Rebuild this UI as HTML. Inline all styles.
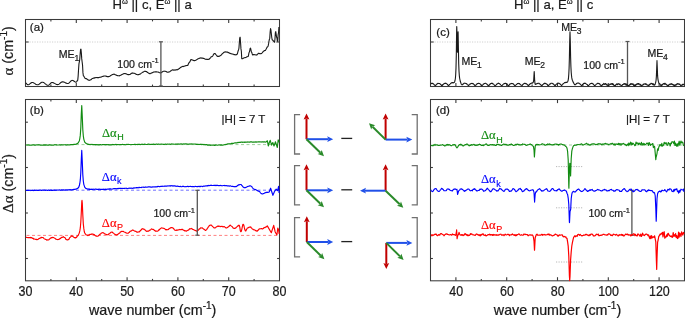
<!DOCTYPE html>
<html><head><meta charset="utf-8"><style>
html,body{margin:0;padding:0;background:#fff;width:685px;height:318px;overflow:hidden;font-family:"Liberation Sans",sans-serif;}
svg{display:block;will-change:transform;}
</style></head><body>
<svg width="685" height="318" viewBox="0 0 685 318"><rect x="25.50" y="19.50" width="254.00" height="67.00" fill="none" stroke="#3a3a3a" stroke-width="1.05"/>
<rect x="25.50" y="99.50" width="254.00" height="181.30" fill="none" stroke="#3a3a3a" stroke-width="1.05"/>
<rect x="430.50" y="19.50" width="254.00" height="67.00" fill="none" stroke="#3a3a3a" stroke-width="1.05"/>
<rect x="430.50" y="99.50" width="254.00" height="181.30" fill="none" stroke="#3a3a3a" stroke-width="1.05"/>
<line x1="76.30" y1="19.50" x2="76.30" y2="23.10" stroke="#3a3a3a" stroke-width="1.10" />
<line x1="76.30" y1="86.50" x2="76.30" y2="82.90" stroke="#3a3a3a" stroke-width="1.10" />
<line x1="127.10" y1="19.50" x2="127.10" y2="23.10" stroke="#3a3a3a" stroke-width="1.10" />
<line x1="127.10" y1="86.50" x2="127.10" y2="82.90" stroke="#3a3a3a" stroke-width="1.10" />
<line x1="177.90" y1="19.50" x2="177.90" y2="23.10" stroke="#3a3a3a" stroke-width="1.10" />
<line x1="177.90" y1="86.50" x2="177.90" y2="82.90" stroke="#3a3a3a" stroke-width="1.10" />
<line x1="228.70" y1="19.50" x2="228.70" y2="23.10" stroke="#3a3a3a" stroke-width="1.10" />
<line x1="228.70" y1="86.50" x2="228.70" y2="82.90" stroke="#3a3a3a" stroke-width="1.10" />
<line x1="50.90" y1="19.50" x2="50.90" y2="21.40" stroke="#3a3a3a" stroke-width="1.10" />
<line x1="50.90" y1="86.50" x2="50.90" y2="84.60" stroke="#3a3a3a" stroke-width="1.10" />
<line x1="101.70" y1="19.50" x2="101.70" y2="21.40" stroke="#3a3a3a" stroke-width="1.10" />
<line x1="101.70" y1="86.50" x2="101.70" y2="84.60" stroke="#3a3a3a" stroke-width="1.10" />
<line x1="152.50" y1="19.50" x2="152.50" y2="21.40" stroke="#3a3a3a" stroke-width="1.10" />
<line x1="152.50" y1="86.50" x2="152.50" y2="84.60" stroke="#3a3a3a" stroke-width="1.10" />
<line x1="203.30" y1="19.50" x2="203.30" y2="21.40" stroke="#3a3a3a" stroke-width="1.10" />
<line x1="203.30" y1="86.50" x2="203.30" y2="84.60" stroke="#3a3a3a" stroke-width="1.10" />
<line x1="254.10" y1="19.50" x2="254.10" y2="21.40" stroke="#3a3a3a" stroke-width="1.10" />
<line x1="254.10" y1="86.50" x2="254.10" y2="84.60" stroke="#3a3a3a" stroke-width="1.10" />
<line x1="455.90" y1="19.50" x2="455.90" y2="23.10" stroke="#3a3a3a" stroke-width="1.10" />
<line x1="455.90" y1="86.50" x2="455.90" y2="82.90" stroke="#3a3a3a" stroke-width="1.10" />
<line x1="506.70" y1="19.50" x2="506.70" y2="23.10" stroke="#3a3a3a" stroke-width="1.10" />
<line x1="506.70" y1="86.50" x2="506.70" y2="82.90" stroke="#3a3a3a" stroke-width="1.10" />
<line x1="557.50" y1="19.50" x2="557.50" y2="23.10" stroke="#3a3a3a" stroke-width="1.10" />
<line x1="557.50" y1="86.50" x2="557.50" y2="82.90" stroke="#3a3a3a" stroke-width="1.10" />
<line x1="608.30" y1="19.50" x2="608.30" y2="23.10" stroke="#3a3a3a" stroke-width="1.10" />
<line x1="608.30" y1="86.50" x2="608.30" y2="82.90" stroke="#3a3a3a" stroke-width="1.10" />
<line x1="659.10" y1="19.50" x2="659.10" y2="23.10" stroke="#3a3a3a" stroke-width="1.10" />
<line x1="659.10" y1="86.50" x2="659.10" y2="82.90" stroke="#3a3a3a" stroke-width="1.10" />
<line x1="481.30" y1="19.50" x2="481.30" y2="21.40" stroke="#3a3a3a" stroke-width="1.10" />
<line x1="481.30" y1="86.50" x2="481.30" y2="84.60" stroke="#3a3a3a" stroke-width="1.10" />
<line x1="532.10" y1="19.50" x2="532.10" y2="21.40" stroke="#3a3a3a" stroke-width="1.10" />
<line x1="532.10" y1="86.50" x2="532.10" y2="84.60" stroke="#3a3a3a" stroke-width="1.10" />
<line x1="582.90" y1="19.50" x2="582.90" y2="21.40" stroke="#3a3a3a" stroke-width="1.10" />
<line x1="582.90" y1="86.50" x2="582.90" y2="84.60" stroke="#3a3a3a" stroke-width="1.10" />
<line x1="633.70" y1="19.50" x2="633.70" y2="21.40" stroke="#3a3a3a" stroke-width="1.10" />
<line x1="633.70" y1="86.50" x2="633.70" y2="84.60" stroke="#3a3a3a" stroke-width="1.10" />
<line x1="76.30" y1="99.50" x2="76.30" y2="103.10" stroke="#3a3a3a" stroke-width="1.10" />
<line x1="76.30" y1="280.80" x2="76.30" y2="277.20" stroke="#3a3a3a" stroke-width="1.10" />
<line x1="127.10" y1="99.50" x2="127.10" y2="103.10" stroke="#3a3a3a" stroke-width="1.10" />
<line x1="127.10" y1="280.80" x2="127.10" y2="277.20" stroke="#3a3a3a" stroke-width="1.10" />
<line x1="177.90" y1="99.50" x2="177.90" y2="103.10" stroke="#3a3a3a" stroke-width="1.10" />
<line x1="177.90" y1="280.80" x2="177.90" y2="277.20" stroke="#3a3a3a" stroke-width="1.10" />
<line x1="228.70" y1="99.50" x2="228.70" y2="103.10" stroke="#3a3a3a" stroke-width="1.10" />
<line x1="228.70" y1="280.80" x2="228.70" y2="277.20" stroke="#3a3a3a" stroke-width="1.10" />
<line x1="50.90" y1="99.50" x2="50.90" y2="101.40" stroke="#3a3a3a" stroke-width="1.10" />
<line x1="50.90" y1="280.80" x2="50.90" y2="278.90" stroke="#3a3a3a" stroke-width="1.10" />
<line x1="101.70" y1="99.50" x2="101.70" y2="101.40" stroke="#3a3a3a" stroke-width="1.10" />
<line x1="101.70" y1="280.80" x2="101.70" y2="278.90" stroke="#3a3a3a" stroke-width="1.10" />
<line x1="152.50" y1="99.50" x2="152.50" y2="101.40" stroke="#3a3a3a" stroke-width="1.10" />
<line x1="152.50" y1="280.80" x2="152.50" y2="278.90" stroke="#3a3a3a" stroke-width="1.10" />
<line x1="203.30" y1="99.50" x2="203.30" y2="101.40" stroke="#3a3a3a" stroke-width="1.10" />
<line x1="203.30" y1="280.80" x2="203.30" y2="278.90" stroke="#3a3a3a" stroke-width="1.10" />
<line x1="254.10" y1="99.50" x2="254.10" y2="101.40" stroke="#3a3a3a" stroke-width="1.10" />
<line x1="254.10" y1="280.80" x2="254.10" y2="278.90" stroke="#3a3a3a" stroke-width="1.10" />
<line x1="455.90" y1="99.50" x2="455.90" y2="103.10" stroke="#3a3a3a" stroke-width="1.10" />
<line x1="455.90" y1="280.80" x2="455.90" y2="277.20" stroke="#3a3a3a" stroke-width="1.10" />
<line x1="506.70" y1="99.50" x2="506.70" y2="103.10" stroke="#3a3a3a" stroke-width="1.10" />
<line x1="506.70" y1="280.80" x2="506.70" y2="277.20" stroke="#3a3a3a" stroke-width="1.10" />
<line x1="557.50" y1="99.50" x2="557.50" y2="103.10" stroke="#3a3a3a" stroke-width="1.10" />
<line x1="557.50" y1="280.80" x2="557.50" y2="277.20" stroke="#3a3a3a" stroke-width="1.10" />
<line x1="608.30" y1="99.50" x2="608.30" y2="103.10" stroke="#3a3a3a" stroke-width="1.10" />
<line x1="608.30" y1="280.80" x2="608.30" y2="277.20" stroke="#3a3a3a" stroke-width="1.10" />
<line x1="659.10" y1="99.50" x2="659.10" y2="103.10" stroke="#3a3a3a" stroke-width="1.10" />
<line x1="659.10" y1="280.80" x2="659.10" y2="277.20" stroke="#3a3a3a" stroke-width="1.10" />
<line x1="481.30" y1="99.50" x2="481.30" y2="101.40" stroke="#3a3a3a" stroke-width="1.10" />
<line x1="481.30" y1="280.80" x2="481.30" y2="278.90" stroke="#3a3a3a" stroke-width="1.10" />
<line x1="532.10" y1="99.50" x2="532.10" y2="101.40" stroke="#3a3a3a" stroke-width="1.10" />
<line x1="532.10" y1="280.80" x2="532.10" y2="278.90" stroke="#3a3a3a" stroke-width="1.10" />
<line x1="582.90" y1="99.50" x2="582.90" y2="101.40" stroke="#3a3a3a" stroke-width="1.10" />
<line x1="582.90" y1="280.80" x2="582.90" y2="278.90" stroke="#3a3a3a" stroke-width="1.10" />
<line x1="633.70" y1="99.50" x2="633.70" y2="101.40" stroke="#3a3a3a" stroke-width="1.10" />
<line x1="633.70" y1="280.80" x2="633.70" y2="278.90" stroke="#3a3a3a" stroke-width="1.10" />
<line x1="25.50" y1="42.00" x2="28.70" y2="42.00" stroke="#3a3a3a" stroke-width="1.10" />
<line x1="279.50" y1="42.00" x2="276.30" y2="42.00" stroke="#3a3a3a" stroke-width="1.10" />
<line x1="430.50" y1="42.00" x2="433.70" y2="42.00" stroke="#3a3a3a" stroke-width="1.10" />
<line x1="684.50" y1="42.00" x2="681.30" y2="42.00" stroke="#3a3a3a" stroke-width="1.10" />
<line x1="25.50" y1="122.20" x2="27.90" y2="122.20" stroke="#3a3a3a" stroke-width="1.10" />
<line x1="279.50" y1="122.20" x2="277.10" y2="122.20" stroke="#3a3a3a" stroke-width="1.10" />
<line x1="25.50" y1="167.50" x2="27.90" y2="167.50" stroke="#3a3a3a" stroke-width="1.10" />
<line x1="279.50" y1="167.50" x2="277.10" y2="167.50" stroke="#3a3a3a" stroke-width="1.10" />
<line x1="25.50" y1="213.00" x2="27.90" y2="213.00" stroke="#3a3a3a" stroke-width="1.10" />
<line x1="279.50" y1="213.00" x2="277.10" y2="213.00" stroke="#3a3a3a" stroke-width="1.10" />
<line x1="25.50" y1="258.50" x2="27.90" y2="258.50" stroke="#3a3a3a" stroke-width="1.10" />
<line x1="279.50" y1="258.50" x2="277.10" y2="258.50" stroke="#3a3a3a" stroke-width="1.10" />
<line x1="430.50" y1="122.20" x2="432.90" y2="122.20" stroke="#3a3a3a" stroke-width="1.10" />
<line x1="684.50" y1="122.20" x2="682.10" y2="122.20" stroke="#3a3a3a" stroke-width="1.10" />
<line x1="430.50" y1="167.50" x2="432.90" y2="167.50" stroke="#3a3a3a" stroke-width="1.10" />
<line x1="684.50" y1="167.50" x2="682.10" y2="167.50" stroke="#3a3a3a" stroke-width="1.10" />
<line x1="430.50" y1="213.00" x2="432.90" y2="213.00" stroke="#3a3a3a" stroke-width="1.10" />
<line x1="684.50" y1="213.00" x2="682.10" y2="213.00" stroke="#3a3a3a" stroke-width="1.10" />
<line x1="430.50" y1="258.50" x2="432.90" y2="258.50" stroke="#3a3a3a" stroke-width="1.10" />
<line x1="684.50" y1="258.50" x2="682.10" y2="258.50" stroke="#3a3a3a" stroke-width="1.10" />
<line x1="29.50" y1="42.00" x2="275.50" y2="42.00" stroke="#d0d0d0" stroke-width="1.00" stroke-dasharray="1.2,1.3"/>
<line x1="434.50" y1="42.00" x2="680.50" y2="42.00" stroke="#d0d0d0" stroke-width="1.00" stroke-dasharray="1.2,1.3"/>
<line x1="556.00" y1="166.60" x2="583.50" y2="166.60" stroke="#b8b8b8" stroke-width="1.00" stroke-dasharray="1.2,1.3"/>
<line x1="556.00" y1="207.80" x2="583.50" y2="207.80" stroke="#b8b8b8" stroke-width="1.00" stroke-dasharray="1.2,1.3"/>
<line x1="556.00" y1="262.00" x2="583.50" y2="262.00" stroke="#b8b8b8" stroke-width="1.00" stroke-dasharray="1.2,1.3"/>
<path d="M25.75,83.10 L26.15,83.24 L26.55,83.62 L26.95,84.10 L27.35,84.54 L27.75,84.78 L28.15,84.78 L28.55,84.68 L28.95,84.49 L29.35,84.24 L29.75,83.93 L30.15,83.61 L30.55,83.29 L30.95,82.99 L31.35,82.75 L31.75,82.59 L32.15,82.51 L32.55,82.51 L32.95,82.58 L33.35,82.72 L33.75,82.90 L34.15,83.12 L34.55,83.38 L34.95,83.65 L35.35,83.92 L35.75,84.18 L36.15,84.40 L36.55,84.58 L36.95,84.72 L37.35,84.79 L37.75,84.79 L38.15,84.72 L38.55,84.56 L38.95,84.32 L39.35,84.04 L39.75,83.71 L40.15,83.37 L40.55,83.04 L40.95,82.74 L41.35,82.50 L41.75,82.32 L42.15,82.22 L42.55,82.21 L42.95,82.27 L43.35,82.41 L43.75,82.61 L44.15,82.87 L44.55,83.17 L44.95,83.49 L45.35,83.84 L45.75,84.17 L46.15,84.49 L46.55,84.77 L46.95,85.00 L47.35,85.17 L47.75,85.27 L48.15,85.30 L48.55,85.21 L48.95,84.98 L49.35,84.65 L49.75,84.24 L50.15,83.79 L50.55,83.35 L50.95,82.97 L51.35,82.69 L51.75,82.53 L52.15,82.50 L52.55,82.55 L52.95,82.64 L53.35,82.78 L53.75,82.95 L54.15,83.15 L54.55,83.38 L54.95,83.61 L55.35,83.84 L55.75,84.05 L56.15,84.24 L56.55,84.40 L56.95,84.51 L57.35,84.58 L57.75,84.60 L58.15,84.54 L58.55,84.39 L58.95,84.16 L59.35,83.86 L59.75,83.52 L60.15,83.15 L60.55,82.79 L60.95,82.46 L61.35,82.18 L61.75,81.97 L62.15,81.84 L62.55,81.80 L62.95,81.83 L63.35,81.91 L63.75,82.02 L64.15,82.18 L64.55,82.35 L64.95,82.55 L65.35,82.75 L65.75,82.95 L66.15,83.12 L66.55,83.28 L66.95,83.39 L67.35,83.47 L67.75,83.50 L68.15,83.45 L68.55,83.28 L68.95,83.01 L69.35,82.64 L69.75,82.23 L70.15,81.78 L70.55,81.36 L70.95,80.98 L71.35,80.68 L71.75,80.48 L72.15,80.40 L72.55,80.44 L72.95,80.56 L73.35,80.76 L73.75,81.01 L74.15,81.30 L74.55,81.59 L74.95,81.84 L75.35,82.04 L75.75,82.16 L76.15,82.20 L76.55,81.85 L76.95,81.17 L77.35,80.61 L77.75,80.15 L78.15,76.12 L78.55,69.55 L78.95,63.87 L79.35,61.96 L79.75,59.26 L80.15,53.97 L80.55,49.59 L80.95,49.07 L81.35,53.15 L81.75,58.89 L82.15,61.96 L82.55,65.17 L82.95,72.63 L83.35,75.80 L83.75,76.08 L84.15,76.71 L84.55,77.50 L84.95,78.19 L85.35,78.57 L85.75,78.62 L86.15,78.53 L86.55,78.70 L86.95,79.17 L87.35,79.27 L87.75,79.74 L88.15,79.96 L88.55,80.06 L88.95,80.36 L89.35,80.24 L89.75,80.32 L90.15,80.04 L90.55,79.81 L90.95,79.63 L91.35,79.45 L91.75,78.86 L92.15,78.58 L92.55,78.46 L92.95,78.38 L93.35,78.14 L93.75,78.00 L94.15,78.13 L94.55,77.72 L94.95,77.94 L95.35,77.66 L95.75,77.55 L96.15,77.49 L96.55,77.52 L96.95,77.68 L97.35,77.44 L97.75,77.58 L98.15,77.62 L98.55,77.54 L98.95,77.59 L99.35,77.38 L99.75,77.30 L100.15,77.26 L100.55,77.31 L100.95,77.09 L101.35,76.90 L101.75,76.84 L102.15,76.63 L102.55,76.42 L102.95,76.46 L103.35,76.29 L103.75,76.02 L104.15,76.06 L104.55,75.98 L104.95,76.08 L105.35,76.05 L105.75,75.98 L106.15,76.37 L106.55,76.23 L106.95,76.50 L107.35,76.76 L107.75,76.62 L108.15,76.74 L108.55,76.49 L108.95,76.59 L109.35,76.44 L109.75,76.16 L110.15,76.03 L110.55,75.57 L110.95,75.44 L111.35,75.14 L111.75,74.89 L112.15,74.63 L112.55,74.58 L112.95,74.48 L113.35,74.23 L113.75,74.26 L114.15,74.08 L114.55,74.39 L114.95,74.51 L115.35,74.81 L115.75,74.96 L116.15,74.99 L116.55,75.25 L116.95,75.56 L117.35,75.51 L117.75,75.80 L118.15,75.78 L118.55,75.79 L118.95,75.74 L119.35,75.92 L119.75,75.56 L120.15,75.44 L120.55,75.30 L120.95,75.25 L121.35,74.72 L121.75,74.61 L122.15,74.41 L122.55,74.30 L122.95,74.07 L123.35,73.92 L123.75,73.57 L124.15,73.53 L124.55,73.47 L124.95,73.68 L125.35,73.78 L125.75,73.62 L126.15,73.79 L126.55,73.99 L126.95,74.17 L127.35,74.43 L127.75,74.60 L128.15,74.58 L128.55,74.53 L128.95,74.65 L129.35,74.52 L129.75,74.42 L130.15,74.34 L130.55,74.00 L130.95,73.68 L131.35,73.47 L131.75,73.28 L132.15,72.89 L132.55,73.10 L132.95,73.03 L133.35,73.11 L133.75,73.18 L134.15,73.18 L134.55,73.37 L134.95,73.49 L135.35,73.91 L135.75,73.95 L136.15,74.17 L136.55,74.42 L136.95,74.56 L137.35,74.74 L137.75,74.68 L138.15,74.65 L138.55,74.63 L138.95,74.49 L139.35,74.42 L139.75,74.09 L140.15,74.17 L140.55,73.81 L140.95,73.37 L141.35,73.12 L141.75,72.86 L142.15,72.59 L142.55,72.23 L142.95,72.24 L143.35,72.08 L143.75,71.70 L144.15,71.56 L144.55,71.31 L144.95,71.26 L145.35,71.34 L145.75,71.35 L146.15,71.65 L146.55,71.59 L146.95,71.79 L147.35,72.42 L147.75,72.59 L148.15,72.77 L148.55,73.20 L148.95,73.24 L149.35,73.58 L149.75,73.80 L150.15,73.72 L150.55,73.56 L150.95,73.27 L151.35,73.14 L151.75,72.88 L152.15,72.89 L152.55,72.59 L152.95,72.47 L153.35,72.12 L153.75,71.92 L154.15,72.00 L154.55,71.97 L154.95,71.88 L155.35,71.86 L155.75,71.89 L156.15,71.90 L156.55,71.78 L156.95,71.96 L157.35,71.99 L157.75,71.98 L158.15,72.08 L158.55,72.28 L158.95,72.38 L159.35,72.63 L159.75,72.81 L160.15,72.70 L160.55,72.87 L160.95,72.81 L161.35,72.65 L161.75,72.24 L162.15,71.96 L162.55,71.72 L162.95,71.48 L163.35,71.28 L163.75,71.29 L164.15,71.29 L164.55,71.25 L164.95,71.16 L165.35,71.33 L165.75,71.53 L166.15,71.44 L166.55,71.83 L166.95,72.09 L167.35,72.17 L167.75,72.23 L168.15,72.15 L168.55,71.98 L168.95,72.08 L169.35,71.74 L169.75,71.67 L170.15,71.47 L170.55,70.98 L170.95,70.70 L171.35,70.64 L171.75,70.33 L172.15,69.96 L172.55,69.84 L172.95,69.81 L173.35,70.13 L173.75,70.14 L174.15,69.90 L174.55,70.11 L174.95,70.12 L175.35,69.96 L175.75,69.84 L176.15,69.93 L176.55,69.76 L176.95,69.65 L177.35,69.86 L177.75,69.57 L178.15,69.30 L178.55,69.19 L178.95,68.72 L179.35,68.57 L179.75,68.25 L180.15,67.72 L180.55,67.44 L180.95,67.18 L181.35,66.92 L181.75,66.85 L182.15,66.58 L182.55,66.54 L182.95,66.38 L183.35,66.58 L183.75,66.27 L184.15,66.17 L184.55,66.08 L184.95,66.06 L185.35,65.75 L185.75,65.82 L186.15,65.59 L186.55,65.56 L186.95,65.56 L187.35,65.43 L187.75,65.41 L188.15,64.59 L188.55,63.53 L188.95,62.90 L189.35,62.20 L189.75,62.12 L190.15,61.31 L190.55,60.13 L190.95,59.48 L191.35,59.59 L191.75,59.72 L192.15,59.97 L192.55,59.94 L192.95,60.31 L193.35,60.38 L193.75,60.52 L194.15,60.74 L194.55,60.61 L194.95,60.53 L195.35,60.46 L195.75,60.34 L196.15,59.97 L196.55,59.81 L196.95,59.54 L197.35,59.30 L197.75,59.12 L198.15,58.79 L198.55,58.60 L198.95,58.38 L199.35,58.37 L199.75,58.15 L200.15,58.11 L200.55,58.07 L200.95,57.81 L201.35,57.94 L201.75,58.15 L202.15,58.20 L202.55,58.06 L202.95,58.17 L203.35,58.42 L203.75,58.42 L204.15,58.62 L204.55,58.70 L204.95,59.04 L205.35,59.19 L205.75,59.34 L206.15,59.15 L206.55,59.41 L206.95,59.43 L207.35,59.26 L207.75,59.52 L208.15,59.51 L208.55,59.19 L208.95,59.32 L209.35,58.86 L209.75,58.52 L210.15,58.25 L210.55,57.74 L210.95,57.08 L211.35,56.84 L211.75,56.67 L212.15,56.51 L212.55,56.10 L212.95,55.51 L213.35,54.89 L213.75,53.93 L214.15,53.66 L214.55,53.51 L214.95,53.50 L215.35,53.90 L215.75,54.40 L216.15,54.83 L216.55,55.16 L216.95,55.94 L217.35,56.23 L217.75,56.53 L218.15,56.31 L218.55,56.37 L218.95,56.22 L219.35,56.35 L219.75,55.96 L220.15,55.65 L220.55,55.45 L220.95,55.27 L221.35,54.86 L221.75,54.26 L222.15,53.82 L222.55,53.71 L222.95,53.21 L223.35,52.92 L223.75,52.41 L224.15,52.15 L224.55,52.20 L224.95,51.99 L225.35,51.81 L225.75,52.09 L226.15,51.99 L226.55,52.09 L226.95,51.91 L227.35,52.29 L227.75,52.14 L228.15,52.58 L228.55,52.60 L228.95,52.75 L229.35,53.02 L229.75,53.34 L230.15,53.30 L230.55,53.43 L230.95,53.73 L231.35,53.77 L231.75,53.85 L232.15,53.95 L232.55,53.99 L232.95,54.14 L233.35,54.29 L233.75,54.40 L234.15,54.68 L234.55,54.62 L234.95,54.79 L235.35,54.75 L235.75,54.86 L236.15,54.56 L236.55,54.59 L236.95,54.59 L237.35,53.85 L237.75,52.30 L238.15,50.75 L238.55,50.01 L238.95,48.05 L239.35,42.61 L239.75,37.72 L240.15,37.21 L240.55,42.48 L240.95,48.63 L241.35,51.29 L241.75,58.65 L242.15,58.77 L242.55,58.65 L242.95,58.47 L243.35,58.26 L243.75,58.03 L244.15,57.83 L244.55,57.68 L244.95,57.61 L245.35,57.58 L245.75,57.48 L246.15,57.30 L246.55,57.08 L246.95,56.85 L247.35,56.66 L247.75,56.54 L248.15,56.48 L248.55,55.11 L248.95,52.88 L249.35,51.98 L249.75,50.53 L250.15,48.40 L250.55,48.09 L250.95,49.95 L251.35,51.81 L251.75,52.31 L252.15,53.70 L252.55,54.89 L252.95,55.00 L253.35,54.56 L253.75,54.63 L254.15,54.57 L254.55,54.81 L254.95,54.79 L255.35,54.74 L255.75,54.89 L256.15,55.09 L256.55,54.90 L256.95,54.93 L257.35,54.42 L257.75,53.95 L258.15,53.63 L258.55,53.28 L258.95,53.32 L259.35,53.44 L259.75,53.63 L260.15,53.54 L260.55,53.74 L260.95,53.69 L261.35,53.55 L261.75,53.22 L262.15,52.82 L262.55,52.29 L262.95,51.83 L263.35,51.36 L263.75,51.18 L264.15,50.76 L264.55,50.61 L264.95,50.52 L265.35,50.40 L265.75,49.80 L266.15,49.07 L266.55,48.21 L266.95,47.45 L267.35,46.92 L267.75,46.70 L268.15,46.01 L268.55,43.88 L268.95,41.29 L269.35,39.46 L269.75,38.40 L270.15,32.05 L270.55,28.62 L270.95,30.25 L271.35,33.76 L271.75,37.49 L272.15,39.71 L272.55,39.97 L272.95,40.32 L273.35,40.89 L273.75,41.51 L274.15,41.99 L274.55,42.20 L274.95,39.22 L275.35,32.90 L275.75,31.54 L276.15,34.04 L276.55,36.95 L276.95,37.99 L277.35,41.18 L277.75,41.29 L278.15,34.81 L278.55,32.51 L278.95,26.99" fill="none" stroke="#1a1a1a" stroke-width="1.10" stroke-linejoin="round" />
<line x1="26.50" y1="144.60" x2="278.50" y2="144.60" stroke="#9ccf9c" stroke-width="1.00" stroke-dasharray="3,2.5"/>
<line x1="26.50" y1="190.20" x2="278.50" y2="190.20" stroke="#7070ff" stroke-width="1.00" stroke-dasharray="3,2.5"/>
<line x1="26.50" y1="235.40" x2="278.50" y2="235.40" stroke="#ff8080" stroke-width="1.00" stroke-dasharray="3,2.5"/>
<path d="M25.80,145.17 L26.30,144.99 L26.80,144.98 L27.30,145.00 L27.80,145.07 L28.30,144.94 L28.80,145.06 L29.30,144.98 L29.80,145.29 L30.30,145.29 L30.80,145.10 L31.30,144.97 L31.80,145.29 L32.30,145.00 L32.80,145.01 L33.30,144.86 L33.80,145.02 L34.30,145.06 L34.80,145.07 L35.30,144.94 L35.80,145.07 L36.30,144.85 L36.80,144.96 L37.30,144.88 L37.80,145.01 L38.30,144.85 L38.80,144.84 L39.30,144.96 L39.80,144.93 L40.30,145.08 L40.80,145.06 L41.30,145.15 L41.80,145.11 L42.30,145.13 L42.80,145.20 L43.30,144.98 L43.80,144.95 L44.30,145.24 L44.80,144.87 L45.30,145.12 L45.80,145.08 L46.30,144.81 L46.80,145.16 L47.30,145.18 L47.80,145.06 L48.30,145.10 L48.80,145.14 L49.30,144.84 L49.80,145.00 L50.30,144.99 L50.80,145.13 L51.30,145.12 L51.80,145.13 L52.30,145.02 L52.80,145.15 L53.30,145.05 L53.80,145.06 L54.30,144.85 L54.80,144.76 L55.30,144.80 L55.80,144.90 L56.30,144.79 L56.80,145.10 L57.30,144.98 L57.80,145.01 L58.30,145.00 L58.80,145.03 L59.30,144.94 L59.80,144.72 L60.30,145.07 L60.80,145.04 L61.30,144.93 L61.80,144.94 L62.30,145.00 L62.80,144.73 L63.30,145.02 L63.80,144.80 L64.30,144.72 L64.80,144.80 L65.30,145.00 L65.80,144.76 L66.30,144.99 L66.80,145.08 L67.30,144.86 L67.80,144.80 L68.30,144.83 L68.80,144.91 L69.30,144.94 L69.80,144.85 L70.30,144.85 L70.80,144.58 L71.30,144.59 L71.80,144.61 L72.30,144.79 L72.80,144.56 L73.30,144.64 L73.80,144.34 L74.30,144.30 L74.80,144.32 L75.30,144.40 L75.80,144.30 L76.30,144.14 L76.80,143.78 L77.30,143.62 L77.80,143.25 L78.30,142.74 L78.80,141.82 L79.30,140.94 L79.80,138.58 L80.30,135.14 L80.80,127.69 L81.30,114.05 L81.75,105.64 L82.30,117.38 L82.80,129.58 L83.30,135.82 L83.80,139.05 L84.30,140.85 L84.80,142.27 L85.30,142.64 L85.80,143.28 L86.30,143.42 L86.80,143.83 L87.30,144.20 L87.80,143.98 L88.30,144.39 L88.80,144.34 L89.30,144.57 L89.80,144.55 L90.30,144.39 L90.80,144.72 L91.30,144.57 L91.80,144.40 L92.30,144.41 L92.80,144.64 L93.30,144.64 L93.80,144.59 L94.30,144.53 L94.80,144.63 L95.30,144.63 L95.80,144.86 L96.30,144.50 L96.80,144.83 L97.30,144.88 L97.80,144.56 L98.30,144.92 L98.80,144.83 L99.30,144.91 L99.80,144.64 L100.30,144.68 L100.80,144.68 L101.30,144.95 L101.80,144.77 L102.30,144.66 L102.80,144.69 L103.30,144.62 L103.80,144.52 L104.30,144.54 L104.80,144.86 L105.30,144.61 L105.80,144.89 L106.30,144.59 L106.80,144.59 L107.30,144.70 L107.80,144.55 L108.30,144.63 L108.80,144.88 L109.30,144.84 L109.80,144.81 L110.30,144.72 L110.80,144.84 L111.30,144.85 L111.80,144.67 L112.30,144.74 L112.80,144.45 L113.30,144.74 L113.80,144.61 L114.30,144.74 L114.80,144.69 L115.30,144.53 L115.80,144.42 L116.30,144.81 L116.80,144.45 L117.30,144.60 L117.80,144.54 L118.30,144.52 L118.80,144.71 L119.30,144.81 L119.80,144.49 L120.30,144.66 L120.80,144.51 L121.30,144.62 L121.80,144.54 L122.30,144.44 L122.80,144.44 L123.30,144.46 L123.80,144.76 L124.30,144.58 L124.80,144.46 L125.30,144.76 L125.80,144.80 L126.30,144.56 L126.80,144.43 L127.30,144.45 L127.80,144.40 L128.30,144.51 L128.80,144.40 L129.30,144.46 L129.80,144.46 L130.30,144.60 L130.80,144.73 L131.30,144.66 L131.80,144.51 L132.30,144.50 L132.80,144.54 L133.30,144.47 L133.80,144.45 L134.30,144.32 L134.80,144.40 L135.30,144.70 L135.80,144.32 L136.30,144.48 L136.80,144.52 L137.30,144.61 L137.80,144.32 L138.30,144.33 L138.80,144.31 L139.30,144.37 L139.80,144.38 L140.30,144.60 L140.80,144.54 L141.30,144.54 L141.80,144.16 L142.30,144.16 L142.80,144.45 L143.30,144.52 L143.80,144.33 L144.30,144.37 L144.80,144.11 L145.30,144.27 L145.80,144.50 L146.30,144.45 L146.80,144.46 L147.30,144.51 L147.80,144.19 L148.30,144.13 L148.80,144.14 L149.30,144.30 L149.80,144.37 L150.30,144.49 L150.80,144.39 L151.30,144.36 L151.80,144.41 L152.30,144.27 L152.80,144.31 L153.30,144.09 L153.80,144.41 L154.30,144.17 L154.80,144.47 L155.30,144.35 L155.80,144.19 L156.30,144.11 L156.80,144.16 L157.30,144.33 L157.80,144.36 L158.30,144.09 L158.80,144.07 L159.30,144.27 L159.80,144.29 L160.30,144.20 L160.80,144.12 L161.30,144.28 L161.80,144.02 L162.30,144.14 L162.80,144.21 L163.30,144.42 L163.80,144.28 L164.30,144.38 L164.80,144.19 L165.30,144.08 L165.80,144.08 L166.30,144.39 L166.80,144.27 L167.30,144.09 L167.80,143.96 L168.30,144.17 L168.80,144.24 L169.30,144.12 L169.80,144.04 L170.30,144.22 L170.80,144.32 L171.30,144.01 L171.80,143.92 L172.30,144.05 L172.80,144.08 L173.30,144.19 L173.80,143.97 L174.30,144.23 L174.80,144.20 L175.30,144.09 L175.80,143.95 L176.30,144.28 L176.80,143.99 L177.30,144.21 L177.80,143.94 L178.30,143.93 L178.80,144.17 L179.30,143.96 L179.80,144.24 L180.30,144.04 L180.80,143.90 L181.30,143.91 L181.80,143.99 L182.30,144.10 L182.80,144.22 L183.30,143.86 L183.80,143.97 L184.30,143.89 L184.80,144.22 L185.30,143.85 L185.80,143.81 L186.30,143.81 L186.80,143.96 L187.30,144.18 L187.80,144.17 L188.30,144.10 L188.80,144.22 L189.30,144.19 L189.80,143.92 L190.30,143.86 L190.80,144.20 L191.30,144.12 L191.80,143.82 L192.30,144.12 L192.80,144.02 L193.30,144.04 L193.80,144.05 L194.30,144.01 L194.80,143.97 L195.30,144.12 L195.80,144.18 L196.30,144.48 L196.80,144.14 L197.30,144.53 L197.80,144.22 L198.30,144.31 L198.80,144.53 L199.30,144.53 L199.80,144.37 L200.30,144.20 L200.80,144.40 L201.30,144.36 L201.80,144.63 L202.30,144.33 L202.80,144.44 L203.30,144.71 L203.80,144.37 L204.30,144.59 L204.80,144.81 L205.30,144.84 L205.80,144.58 L206.30,144.62 L206.80,144.69 L207.30,145.12 L207.80,144.87 L208.30,145.13 L208.80,145.24 L209.30,145.03 L209.80,145.03 L210.30,145.36 L210.80,145.23 L211.30,145.09 L211.80,145.29 L212.30,145.12 L212.80,145.10 L213.30,144.97 L213.80,145.30 L214.30,145.36 L214.80,145.22 L215.30,145.34 L215.80,144.93 L216.30,145.00 L216.80,145.09 L217.30,145.29 L217.80,145.27 L218.30,145.01 L218.80,144.94 L219.30,145.00 L219.80,145.02 L220.30,145.20 L220.80,144.87 L221.30,145.13 L221.80,145.10 L222.30,145.14 L222.80,145.10 L223.30,144.98 L223.80,144.81 L224.30,144.73 L224.80,144.67 L225.30,144.75 L225.80,144.34 L226.30,144.28 L226.80,144.41 L227.30,144.07 L227.80,143.87 L228.30,143.75 L228.80,143.87 L229.30,143.68 L229.80,143.88 L230.30,143.77 L230.80,143.77 L231.30,143.41 L231.80,143.32 L232.30,143.31 L232.80,143.43 L233.30,143.42 L233.80,143.18 L234.30,142.95 L234.80,142.91 L235.30,142.90 L235.80,142.88 L236.30,142.90 L236.80,142.90 L237.30,142.75 L237.80,142.42 L238.30,142.64 L238.80,142.31 L239.30,142.37 L239.80,142.25 L240.30,142.40 L240.80,142.16 L241.30,142.18 L241.80,142.16 L242.30,142.11 L242.80,142.41 L243.30,142.26 L243.80,142.13 L244.30,142.14 L244.80,142.38 L245.30,142.14 L245.80,141.99 L246.30,142.23 L246.80,142.14 L247.30,142.27 L247.80,141.86 L248.30,142.01 L248.80,142.15 L249.30,142.15 L249.80,142.18 L250.30,141.80 L250.80,141.91 L251.30,141.83 L251.80,141.86 L252.30,142.21 L252.80,142.04 L253.30,142.19 L253.80,141.94 L254.30,142.16 L254.80,141.98 L255.30,141.89 L255.80,142.12 L256.30,142.20 L256.80,141.83 L257.30,142.04 L257.80,142.05 L258.30,141.87 L258.80,141.94 L259.30,141.84 L259.80,141.87 L260.30,141.89 L260.80,142.04 L261.30,142.07 L261.80,141.87 L262.30,141.78 L262.80,141.92 L263.30,142.08 L263.80,141.86 L264.30,141.92 L264.80,141.87 L265.30,142.13 L265.80,142.02 L266.30,141.68 L267.40,140.80 L268.30,146.00 L269.30,142.50 L270.20,140.40 L271.60,145.10 L272.80,142.50 L274.00,146.00 L275.50,141.80 L277.30,147.50 L278.20,139.90 L279.20,142.30" fill="none" stroke="#128c12" stroke-width="1.15" stroke-linejoin="round" />
<path d="M25.80,190.19 L26.30,190.34 L26.80,190.41 L27.30,190.46 L27.80,190.18 L28.30,190.22 L28.80,190.48 L29.30,190.33 L29.80,190.27 L30.30,190.28 L30.80,190.59 L31.30,190.27 L31.80,190.39 L32.30,190.28 L32.80,190.31 L33.30,190.53 L33.80,190.59 L34.30,190.26 L34.80,190.17 L35.30,190.43 L35.80,190.16 L36.30,190.06 L36.80,190.50 L37.30,190.25 L37.80,190.45 L38.30,190.23 L38.80,190.46 L39.30,190.25 L39.80,190.09 L40.30,190.01 L40.80,190.27 L41.30,190.31 L41.80,190.44 L42.30,190.02 L42.80,190.28 L43.30,190.15 L43.80,190.21 L44.30,190.03 L44.80,190.09 L45.30,190.21 L45.80,190.41 L46.30,189.99 L46.80,190.18 L47.30,190.33 L47.80,190.41 L48.30,190.03 L48.80,189.99 L49.30,190.39 L49.80,190.41 L50.30,190.16 L50.80,189.95 L51.30,190.38 L51.80,190.11 L52.30,190.37 L52.80,190.22 L53.30,190.32 L53.80,189.99 L54.30,190.30 L54.80,190.01 L55.30,190.10 L55.80,190.31 L56.30,190.30 L56.80,189.97 L57.30,189.98 L57.80,190.07 L58.30,190.12 L58.80,190.05 L59.30,189.91 L59.80,189.97 L60.30,190.20 L60.80,190.28 L61.30,189.84 L61.80,190.09 L62.30,190.18 L62.80,189.81 L63.30,190.20 L63.80,189.83 L64.30,190.06 L64.80,190.03 L65.30,190.06 L65.80,189.88 L66.30,189.93 L66.80,190.00 L67.30,189.90 L67.80,190.00 L68.30,189.88 L68.80,189.86 L69.30,189.64 L69.80,189.91 L70.30,189.83 L70.80,189.67 L71.30,189.91 L71.80,189.89 L72.30,189.69 L72.80,189.51 L73.30,189.62 L73.80,189.38 L74.30,189.33 L74.80,189.40 L75.30,189.14 L75.80,189.19 L76.30,189.08 L76.80,188.65 L77.30,188.69 L77.80,188.05 L78.30,187.86 L78.80,187.12 L79.30,185.77 L79.80,183.49 L80.30,179.92 L80.80,172.42 L81.30,159.44 L81.75,150.41 L82.30,162.39 L82.80,174.62 L83.30,180.97 L83.80,184.33 L84.30,185.84 L84.80,187.32 L85.30,187.76 L85.80,188.45 L86.30,188.74 L86.80,188.59 L87.30,189.06 L87.80,189.25 L88.30,188.91 L88.80,189.12 L89.30,189.37 L89.80,189.10 L90.30,189.50 L90.80,189.21 L91.30,189.49 L91.80,189.16 L92.30,189.34 L92.80,189.55 L93.30,189.19 L93.80,189.22 L94.30,189.34 L94.80,189.24 L95.30,189.09 L95.80,189.16 L96.30,189.15 L96.80,189.53 L97.30,189.40 L97.80,189.51 L98.30,189.14 L98.80,189.45 L99.30,189.12 L99.80,189.33 L100.30,189.39 L100.80,189.25 L101.30,189.51 L101.80,189.35 L102.30,189.35 L102.80,189.50 L103.30,189.10 L103.80,189.54 L104.30,189.34 L104.80,189.21 L105.30,189.40 L105.80,189.12 L106.30,189.46 L106.80,189.23 L107.30,189.10 L107.80,189.28 L108.30,189.10 L108.80,188.94 L109.30,189.20 L109.80,188.83 L110.30,189.19 L110.80,188.87 L111.30,189.04 L111.80,189.18 L112.30,188.95 L112.80,188.96 L113.30,188.76 L113.80,188.57 L114.30,188.56 L114.80,188.59 L115.30,188.80 L115.80,188.68 L116.30,188.69 L116.80,188.85 L117.30,188.45 L117.80,188.47 L118.30,188.66 L118.80,188.32 L119.30,188.29 L119.80,188.44 L120.30,188.30 L120.80,188.41 L121.30,188.32 L121.80,188.49 L122.30,188.48 L122.80,188.27 L123.30,188.47 L123.80,188.39 L124.30,188.21 L124.80,188.61 L125.30,188.26 L125.80,188.21 L126.30,188.18 L126.80,188.45 L127.30,188.56 L127.80,188.51 L128.30,188.31 L128.80,188.22 L129.30,188.08 L129.80,188.38 L130.30,188.31 L130.80,188.18 L131.30,188.30 L131.80,188.17 L132.30,188.38 L132.80,188.25 L133.30,187.97 L133.80,188.26 L134.30,187.79 L134.80,187.99 L135.30,187.89 L135.80,187.76 L136.30,187.62 L136.80,187.94 L137.30,187.51 L137.80,187.73 L138.30,187.88 L138.80,187.44 L139.30,187.42 L139.80,187.58 L140.30,187.49 L140.80,187.51 L141.30,187.56 L141.80,187.20 L142.30,187.22 L142.80,187.18 L143.30,187.02 L143.80,187.41 L144.30,187.32 L144.80,187.26 L145.30,186.87 L145.80,187.27 L146.30,187.20 L146.80,187.04 L147.30,187.16 L147.80,187.00 L148.30,186.87 L148.80,186.80 L149.30,186.86 L149.80,186.76 L150.30,186.91 L150.80,187.11 L151.30,187.08 L151.80,187.15 L152.30,187.06 L152.80,186.83 L153.30,186.95 L153.80,186.87 L154.30,187.02 L154.80,186.86 L155.30,186.70 L155.80,186.85 L156.30,186.98 L156.80,186.57 L157.30,186.86 L157.80,186.39 L158.30,186.47 L158.80,186.42 L159.30,186.63 L159.80,186.68 L160.30,186.54 L160.80,186.29 L161.30,186.52 L161.80,186.21 L162.30,186.12 L162.80,186.42 L163.30,186.24 L163.80,186.23 L164.30,186.18 L164.80,186.31 L165.30,186.02 L165.80,186.18 L166.30,186.09 L166.80,186.14 L167.30,185.91 L167.80,186.04 L168.30,185.95 L168.80,185.81 L169.30,185.76 L169.80,185.96 L170.30,185.69 L170.80,186.11 L171.30,185.73 L171.80,185.68 L172.30,185.74 L172.80,186.17 L173.30,185.90 L173.80,185.82 L174.30,185.79 L174.80,185.83 L175.30,186.19 L175.80,186.19 L176.30,186.26 L176.80,186.31 L177.30,186.02 L177.80,186.31 L178.30,186.24 L178.80,186.50 L179.30,186.54 L179.80,186.60 L180.30,186.22 L180.80,186.65 L181.30,186.70 L181.80,186.74 L182.30,186.35 L182.80,186.41 L183.30,186.38 L183.80,186.35 L184.30,186.77 L184.80,186.75 L185.30,186.66 L185.80,186.76 L186.30,186.66 L186.80,186.49 L187.30,186.39 L187.80,186.39 L188.30,186.71 L188.80,186.43 L189.30,186.49 L189.80,186.54 L190.30,186.33 L190.80,186.44 L191.30,186.45 L191.80,186.66 L192.30,186.48 L192.80,186.45 L193.30,186.77 L193.80,186.54 L194.30,186.71 L194.80,186.58 L195.30,186.29 L195.80,186.47 L196.30,186.48 L196.80,186.65 L197.30,186.43 L197.80,186.61 L198.30,186.52 L198.80,186.36 L199.30,186.68 L199.80,186.29 L200.30,186.66 L200.80,186.32 L201.30,186.22 L201.80,186.29 L202.30,186.53 L202.80,186.60 L203.30,186.06 L203.80,186.24 L204.30,186.18 L204.80,186.27 L205.30,185.89 L205.80,185.97 L206.30,185.83 L206.80,186.00 L207.30,185.64 L207.80,185.92 L208.30,185.53 L208.80,185.44 L209.30,185.63 L209.80,185.49 L210.30,185.26 L210.80,185.49 L211.30,185.20 L211.80,185.54 L212.30,185.50 L212.80,185.54 L213.30,185.47 L213.80,185.34 L214.30,185.36 L214.80,185.37 L215.30,185.62 L215.80,185.23 L216.30,185.64 L216.80,185.22 L217.30,185.32 L217.80,185.36 L218.30,185.69 L218.80,185.51 L219.30,185.46 L219.80,185.72 L220.30,185.41 L220.80,185.53 L221.30,185.58 L221.80,185.70 L222.30,185.70 L222.80,185.66 L223.30,185.51 L223.80,185.51 L224.30,185.42 L224.80,185.77 L225.30,185.68 L225.80,185.74 L226.30,185.50 L226.80,185.68 L227.30,185.91 L227.80,185.88 L228.30,185.71 L228.80,185.93 L229.30,186.17 L229.80,185.87 L230.30,185.85 L230.80,185.96 L231.30,186.24 L231.80,186.43 L232.30,186.21 L232.80,186.35 L233.30,186.51 L233.80,186.64 L234.30,186.80 L234.80,186.63 L235.30,186.65 L235.80,186.43 L236.30,186.60 L236.80,186.20 L237.30,185.56 L237.80,185.67 L238.30,184.92 L238.80,184.78 L239.30,184.85 L239.80,184.61 L240.30,184.52 L240.80,184.46 L241.30,184.68 L241.80,185.46 L242.30,185.85 L242.80,186.56 L243.30,187.21 L243.80,187.38 L244.30,187.65 L244.80,187.80 L245.30,187.65 L245.80,187.39 L246.30,187.26 L246.80,186.95 L247.30,186.55 L247.80,186.54 L248.30,186.21 L248.80,186.19 L249.30,186.13 L249.80,185.80 L250.30,185.84 L250.80,186.04 L251.30,186.21 L251.80,186.63 L252.30,187.48 L252.80,188.19 L253.30,188.70 L253.80,189.07 L254.30,189.36 L254.80,189.32 L255.30,189.46 L255.80,189.65 L256.30,189.93 L256.80,190.46 L257.30,190.51 L257.80,190.88 L258.30,191.14 L258.80,191.23 L259.30,191.53 L259.80,191.85 L260.30,192.53 L260.80,193.12 L261.30,193.65 L261.80,193.81 L262.30,193.98 L262.80,194.02 L263.30,193.48 L263.80,193.48 L264.30,193.29 L264.80,192.84 L265.30,192.68 L265.80,192.78 L266.30,192.27 L266.80,192.49 L267.30,192.20 L267.80,192.38 L268.30,192.33 L269.20,192.00 L270.60,188.20 L272.90,195.30 L274.50,191.50 L276.20,189.20 L277.60,190.60 L278.60,186.30 L279.10,193.00" fill="none" stroke="#0000ff" stroke-width="1.15" stroke-linejoin="round" />
<path d="M25.80,237.50 L26.30,237.25 L26.80,237.53 L27.30,237.51 L27.80,237.62 L28.30,237.49 L28.80,237.57 L29.30,237.68 L29.80,237.50 L30.30,237.44 L30.80,237.83 L31.30,237.51 L31.80,237.96 L32.30,238.00 L32.80,238.46 L33.30,238.33 L33.80,239.11 L34.30,238.97 L34.80,239.01 L35.30,239.32 L35.80,239.53 L36.30,239.37 L36.80,239.63 L37.30,239.56 L37.80,239.55 L38.30,239.08 L38.80,238.71 L39.30,238.35 L39.80,238.32 L40.30,238.14 L40.80,237.67 L41.30,237.34 L41.80,237.66 L42.30,237.48 L42.80,237.52 L43.30,237.69 L43.80,238.37 L44.30,238.71 L44.80,238.94 L45.30,239.17 L45.80,239.52 L46.30,239.55 L46.80,240.16 L47.30,239.87 L47.80,240.03 L48.30,240.00 L48.80,239.76 L49.30,239.23 L49.80,238.75 L50.30,238.51 L50.80,237.88 L51.30,238.00 L51.80,237.49 L52.30,237.68 L52.80,237.34 L53.30,237.52 L53.80,237.65 L54.30,238.04 L54.80,238.22 L55.30,238.46 L55.80,239.21 L56.30,239.21 L56.80,239.38 L57.30,239.51 L57.80,239.61 L58.30,239.47 L58.80,239.39 L59.30,239.13 L59.80,238.62 L60.30,238.60 L60.80,238.19 L61.30,237.37 L61.80,237.53 L62.30,237.34 L62.80,237.12 L63.30,236.68 L63.80,237.20 L64.30,237.40 L64.80,237.52 L65.30,238.10 L65.80,239.27 L66.30,239.62 L66.80,239.77 L67.30,239.87 L67.80,239.85 L68.30,239.60 L68.80,239.38 L69.30,238.42 L69.80,237.55 L70.30,237.27 L70.80,236.62 L71.30,235.87 L71.80,236.18 L72.30,236.10 L72.80,236.44 L73.30,236.71 L73.80,237.24 L74.30,237.55 L74.80,237.86 L75.30,237.62 L75.80,237.87 L76.30,237.46 L76.80,237.00 L77.30,236.13 L77.80,235.76 L78.30,235.00 L78.80,234.05 L79.30,232.85 L79.80,230.91 L80.30,227.93 L80.80,221.99 L81.30,212.51 L81.80,201.52 L82.00,200.29 L82.30,203.37 L82.80,214.84 L83.30,223.89 L83.80,228.43 L84.30,231.76 L84.80,233.06 L85.30,233.93 L85.80,234.48 L86.30,235.00 L86.80,235.04 L87.30,235.22 L87.80,235.56 L88.30,234.95 L88.80,235.13 L89.30,234.93 L89.80,234.34 L90.30,234.47 L90.80,234.32 L91.30,234.32 L91.80,233.87 L92.30,234.24 L92.80,234.03 L93.30,234.19 L93.80,234.70 L94.30,234.51 L94.80,235.29 L95.30,235.59 L95.80,235.74 L96.30,236.29 L96.80,236.13 L97.30,236.21 L97.80,236.12 L98.30,236.00 L98.80,235.28 L99.30,234.95 L99.80,234.44 L100.30,234.01 L100.80,233.70 L101.30,233.00 L101.80,233.05 L102.30,232.66 L102.80,232.74 L103.30,232.72 L103.80,233.08 L104.30,233.65 L104.80,233.79 L105.30,234.20 L105.80,234.23 L106.30,234.45 L106.80,234.58 L107.30,234.79 L107.80,234.72 L108.30,234.58 L108.80,233.80 L109.30,233.80 L109.80,233.48 L110.30,232.88 L110.80,232.27 L111.30,232.21 L111.80,231.96 L112.30,232.15 L112.80,232.79 L113.30,232.93 L113.80,233.35 L114.30,233.86 L114.80,234.34 L115.30,234.50 L115.80,234.73 L116.30,234.84 L116.80,234.85 L117.30,234.65 L117.80,234.46 L118.30,233.85 L118.80,233.73 L119.30,233.18 L119.80,232.92 L120.30,232.10 L120.80,231.76 L121.30,231.36 L121.80,231.58 L122.30,231.55 L122.80,231.38 L123.30,231.31 L123.80,231.78 L124.30,232.03 L124.80,232.22 L125.30,232.37 L125.80,232.70 L126.30,233.02 L126.80,233.12 L127.30,233.24 L127.80,233.30 L128.30,233.29 L128.80,232.46 L129.30,232.39 L129.80,231.64 L130.30,231.24 L130.80,231.22 L131.30,230.72 L131.80,230.64 L132.30,230.19 L132.80,229.90 L133.30,230.18 L133.80,230.45 L134.30,230.87 L134.80,231.17 L135.30,231.16 L135.80,231.43 L136.30,231.52 L136.80,232.09 L137.30,232.00 L137.80,232.06 L138.30,231.98 L138.80,231.81 L139.30,231.88 L139.80,231.08 L140.30,231.04 L140.80,229.95 L141.30,229.90 L141.80,229.03 L142.30,228.69 L142.80,229.02 L143.30,228.80 L143.80,229.30 L144.30,229.28 L144.80,229.58 L145.30,230.42 L145.80,230.77 L146.30,231.18 L146.80,231.33 L147.30,231.04 L147.80,231.33 L148.30,231.22 L148.80,230.82 L149.30,230.78 L149.80,230.02 L150.30,230.10 L150.80,229.66 L151.30,229.02 L151.80,228.91 L152.30,229.30 L152.80,229.53 L153.30,229.31 L153.80,229.75 L154.30,230.35 L154.80,230.35 L155.30,231.08 L155.80,231.10 L156.30,230.99 L156.80,231.21 L157.30,231.23 L157.80,230.91 L158.30,230.69 L158.80,229.93 L159.30,229.82 L159.80,229.06 L160.30,228.76 L160.80,228.35 L161.30,227.93 L161.80,227.75 L162.30,227.97 L162.80,228.17 L163.30,228.27 L163.80,228.41 L164.30,228.56 L164.80,228.74 L165.30,229.58 L165.80,229.64 L166.30,229.86 L166.80,229.59 L167.30,229.69 L167.80,229.76 L168.30,229.45 L168.80,229.02 L169.30,228.53 L169.80,228.27 L170.30,228.24 L170.80,227.67 L171.30,227.65 L171.80,227.49 L172.30,227.64 L172.80,227.89 L173.30,228.20 L173.80,228.81 L174.30,229.64 L174.80,230.11 L175.30,230.24 L175.80,230.35 L176.30,230.35 L176.80,229.77 L177.30,230.17 L177.80,230.06 L178.30,230.00 L178.80,229.72 L179.30,229.45 L179.80,229.72 L180.30,229.64 L180.80,229.52 L181.30,229.64 L181.80,229.33 L182.30,229.28 L182.80,229.74 L183.30,230.12 L183.80,230.02 L184.30,230.60 L184.80,230.94 L185.30,230.70 L185.80,231.03 L186.30,231.10 L186.80,230.88 L187.30,230.52 L187.80,230.25 L188.30,230.18 L188.80,229.82 L189.30,229.24 L189.80,228.70 L190.30,228.90 L190.80,228.77 L191.30,228.45 L191.80,228.76 L192.30,229.13 L192.80,229.37 L193.30,229.45 L193.80,229.75 L194.30,230.15 L194.80,230.21 L195.30,230.47 L195.80,230.66 L196.30,231.09 L196.80,230.91 L197.30,230.91 L197.80,230.54 L198.30,230.21 L198.80,229.50 L199.30,228.92 L199.80,228.99 L200.30,228.19 L200.80,227.73 L201.30,227.89 L201.80,228.00 L202.30,227.82 L202.80,228.43 L203.30,228.72 L203.80,229.29 L204.30,229.42 L204.80,229.74 L205.30,230.48 L205.80,230.37 L206.30,229.84 L206.80,229.35 L207.30,228.45 L207.80,227.94 L208.30,226.88 L208.80,226.42 L209.30,225.70 L209.80,225.33 L210.30,225.28 L210.80,224.96 L211.30,225.13 L211.80,225.68 L212.30,226.21 L212.80,226.68 L213.30,227.12 L213.80,227.73 L214.30,228.02 L214.80,227.71 L215.30,227.83 L215.80,227.55 L216.30,226.74 L216.80,226.75 L217.30,226.37 L217.80,226.03 L218.30,226.47 L218.80,226.06 L219.30,226.28 L219.80,226.37 L220.30,226.62 L220.80,226.51 L221.30,226.40 L221.80,226.49 L222.30,226.36 L222.80,226.87 L223.30,226.90 L223.80,226.53 L224.30,226.64 L224.80,227.05 L225.30,227.39 L225.80,227.94 L226.30,228.04 L226.80,227.94 L227.30,227.24 L227.80,227.31 L228.30,226.82 L228.80,226.32 L229.30,226.11 L229.80,225.26 L230.30,225.19 L230.80,225.63 L231.30,226.05 L231.80,226.38 L232.30,226.75 L232.80,227.55 L233.30,228.19 L233.80,228.19 L234.30,228.49 L234.80,228.40 L235.30,228.10 L235.80,227.96 L236.30,227.31 L236.80,226.84 L237.30,226.27 L237.80,226.13 L238.30,225.38 L238.80,225.58 L239.30,225.28 L239.80,227.13 L240.30,230.71 L240.80,231.73 L241.30,231.37 L241.80,229.30 L242.30,226.88 L242.80,224.59 L243.30,224.30 L243.80,225.04 L244.30,227.47 L244.80,229.53 L245.30,230.82 L245.80,230.89 L246.30,230.01 L246.80,229.09 L247.30,228.07 L247.80,228.05 L248.30,227.61 L248.80,227.41 L249.30,227.05 L249.80,227.23 L250.30,227.03 L250.80,226.93 L251.30,227.89 L251.80,228.26 L252.30,229.02 L252.80,229.26 L253.30,229.38 L253.80,229.85 L254.30,229.77 L254.80,229.96 L255.30,230.45 L255.80,230.61 L256.30,231.15 L256.80,230.76 L257.30,231.17 L257.80,230.20 L258.30,230.12 L258.80,229.44 L259.30,228.85 L259.80,228.98 L260.30,228.80 L260.80,228.70 L261.30,228.56 L261.80,228.57 L262.30,228.90 L262.80,228.86 L263.30,228.60 L263.80,227.77 L264.30,227.57 L264.80,227.75 L265.30,227.17 L265.80,227.20 L267.30,225.90 L271.30,232.70 L273.70,225.40 L275.20,232.00 L276.90,235.00 L277.80,228.00 L278.50,229.40 L279.20,234.00" fill="none" stroke="#ff0000" stroke-width="1.15" stroke-linejoin="round" />
<line x1="160.90" y1="41.80" x2="160.90" y2="86.00" stroke="#555555" stroke-width="1.30" />
<line x1="158.90" y1="41.80" x2="162.90" y2="41.80" stroke="#555555" stroke-width="1.20" />
<line x1="158.90" y1="86.00" x2="162.90" y2="86.00" stroke="#555555" stroke-width="1.20" />
<line x1="197.30" y1="190.30" x2="197.30" y2="235.20" stroke="#555555" stroke-width="1.30" />
<line x1="195.30" y1="190.30" x2="199.30" y2="190.30" stroke="#555555" stroke-width="1.20" />
<line x1="195.30" y1="235.20" x2="199.30" y2="235.20" stroke="#555555" stroke-width="1.20" />
<line x1="627.50" y1="41.50" x2="627.50" y2="85.60" stroke="#555555" stroke-width="1.30" />
<line x1="625.50" y1="41.50" x2="629.50" y2="41.50" stroke="#555555" stroke-width="1.20" />
<line x1="625.50" y1="85.60" x2="629.50" y2="85.60" stroke="#555555" stroke-width="1.20" />
<line x1="631.90" y1="190.30" x2="631.90" y2="235.30" stroke="#555555" stroke-width="1.30" />
<line x1="629.90" y1="190.30" x2="633.90" y2="190.30" stroke="#555555" stroke-width="1.20" />
<line x1="629.90" y1="235.30" x2="633.90" y2="235.30" stroke="#555555" stroke-width="1.20" />
<path d="M430.80,83.65 L431.10,83.77 L431.40,83.27 L431.70,83.51 L432.00,83.31 L432.30,83.26 L432.60,83.29 L432.90,83.75 L433.20,83.81 L433.50,83.89 L433.80,84.24 L434.10,84.72 L434.40,84.75 L434.70,85.23 L435.00,85.40 L435.30,85.71 L435.60,85.59 L435.90,85.22 L436.20,84.68 L436.50,84.33 L436.80,84.05 L437.10,84.00 L437.40,83.75 L437.70,83.49 L438.00,83.34 L438.30,83.42 L438.60,83.44 L438.90,83.50 L439.20,83.48 L439.50,83.45 L439.80,83.56 L440.10,84.04 L440.40,84.16 L440.70,84.56 L441.00,84.60 L441.30,85.23 L441.60,85.39 L441.90,85.94 L442.20,85.65 L442.50,85.15 L442.80,84.62 L443.10,84.67 L443.40,84.20 L443.70,84.10 L444.00,83.64 L444.30,83.43 L444.60,83.55 L444.90,83.28 L445.20,83.16 L445.50,83.25 L445.80,83.40 L446.10,83.27 L446.40,83.63 L446.70,83.80 L447.00,84.06 L447.30,84.17 L447.60,84.70 L447.90,85.06 L448.20,85.41 L448.50,85.53 L448.80,85.50 L449.10,85.00 L449.40,84.79 L449.70,84.18 L450.00,84.19 L450.30,83.93 L450.60,83.50 L450.90,83.28 L451.20,83.11 L451.50,82.98 L451.80,82.67 L452.10,82.99 L452.40,82.67 L452.70,82.65 L453.00,82.64 L453.30,82.71 L453.60,82.92 L453.90,82.53 L454.20,82.36 L454.50,82.23 L454.80,81.37 L455.10,80.22 L455.40,78.27 L455.70,74.52 L456.00,68.11 L456.30,55.47 L456.60,32.80 L456.75,26.50 L456.90,30.71 L457.20,47.54 L457.50,52.10 L457.80,43.25 L458.10,31.85 L458.10,31.76 L458.40,47.82 L458.70,63.49 L459.00,71.03 L459.30,75.33 L459.60,78.01 L459.90,79.51 L460.20,81.01 L460.50,82.11 L460.80,82.72 L461.10,83.69 L461.40,84.35 L461.70,84.68 L462.00,84.90 L462.30,84.83 L462.60,84.45 L462.90,84.14 L463.20,84.12 L463.50,83.83 L463.80,83.46 L464.10,83.26 L464.40,83.18 L464.70,83.14 L465.00,83.32 L465.30,83.26 L465.60,83.37 L465.90,83.44 L466.20,83.60 L466.50,83.48 L466.80,83.90 L467.10,84.35 L467.40,84.64 L467.70,84.70 L468.00,85.11 L468.30,85.55 L468.60,85.63 L468.90,85.35 L469.20,84.83 L469.50,84.65 L469.80,84.38 L470.10,83.91 L470.40,83.72 L470.70,83.85 L471.00,83.62 L471.30,83.57 L471.60,83.39 L471.90,83.45 L472.20,83.51 L472.50,83.60 L472.80,83.39 L473.10,83.81 L473.40,83.88 L473.70,84.30 L474.00,84.43 L474.30,84.85 L474.60,85.34 L474.90,85.57 L475.20,85.72 L475.50,85.47 L475.80,85.10 L476.10,84.97 L476.40,84.40 L476.70,84.13 L477.00,84.02 L477.30,83.60 L477.60,83.62 L477.90,83.64 L478.20,83.39 L478.50,83.27 L478.80,83.37 L479.10,83.48 L479.40,83.45 L479.70,83.61 L480.00,83.82 L480.30,84.13 L480.60,84.46 L480.90,84.73 L481.20,85.04 L481.50,85.32 L481.80,85.86 L482.10,85.68 L482.40,85.24 L482.70,84.90 L483.00,84.61 L483.30,84.15 L483.60,84.10 L483.90,83.78 L484.20,83.64 L484.50,83.54 L484.80,83.40 L485.10,83.30 L485.40,83.29 L485.70,83.35 L486.00,83.58 L486.30,83.69 L486.60,83.98 L486.90,83.99 L487.20,84.40 L487.50,84.91 L487.80,84.99 L488.10,85.46 L488.40,85.79 L488.70,85.53 L489.00,85.46 L489.30,84.85 L489.60,84.72 L489.90,84.19 L490.20,83.89 L490.50,83.99 L490.80,83.63 L491.10,83.34 L491.40,83.38 L491.70,83.36 L492.00,83.49 L492.30,83.30 L492.60,83.45 L492.90,83.90 L493.20,84.01 L493.50,84.01 L493.80,84.35 L494.10,84.66 L494.40,85.11 L494.70,85.43 L495.00,85.88 L495.30,85.81 L495.60,85.33 L495.90,85.08 L496.20,84.77 L496.50,84.48 L496.80,84.10 L497.10,83.99 L497.40,83.77 L497.70,83.71 L498.00,83.29 L498.30,83.54 L498.60,83.19 L498.90,83.55 L499.20,83.57 L499.50,83.69 L499.80,84.06 L500.10,84.14 L500.40,84.34 L500.70,84.78 L501.00,85.14 L501.30,85.37 L501.60,85.63 L501.90,85.72 L502.20,85.37 L502.50,85.14 L502.80,84.64 L503.10,84.38 L503.40,84.17 L503.70,83.87 L504.00,83.64 L504.30,83.68 L504.60,83.60 L504.90,83.40 L505.20,83.37 L505.50,83.30 L505.80,83.44 L506.10,83.52 L506.40,83.87 L506.70,84.10 L507.00,84.16 L507.30,84.79 L507.60,84.87 L507.90,85.41 L508.20,85.76 L508.50,85.98 L508.80,85.33 L509.10,85.07 L509.40,84.94 L509.70,84.27 L510.00,84.01 L510.30,83.98 L510.60,83.74 L510.90,83.75 L511.20,83.58 L511.50,83.42 L511.80,83.59 L512.10,83.43 L512.40,83.51 L512.70,83.71 L513.00,83.76 L513.30,83.97 L513.60,84.32 L513.90,84.51 L514.20,85.06 L514.50,85.28 L514.80,85.57 L515.10,85.69 L515.40,85.45 L515.70,85.12 L516.00,84.85 L516.30,84.55 L516.60,84.39 L516.90,84.17 L517.20,83.77 L517.50,83.58 L517.80,83.53 L518.10,83.61 L518.40,83.32 L518.70,83.42 L519.00,83.61 L519.30,83.47 L519.60,83.70 L519.90,84.17 L520.20,84.36 L520.50,84.52 L520.80,84.66 L521.10,85.31 L521.40,85.57 L521.70,85.98 L522.00,85.75 L522.30,85.36 L522.60,84.84 L522.90,84.42 L523.20,84.18 L523.50,84.02 L523.80,83.80 L524.10,83.49 L524.40,83.36 L524.70,83.45 L525.00,83.41 L525.30,83.32 L525.60,83.65 L525.90,83.62 L526.20,83.54 L526.50,83.89 L526.80,84.28 L527.10,84.36 L527.40,84.81 L527.70,84.86 L528.00,85.32 L528.30,85.89 L528.60,85.60 L528.90,85.28 L529.20,84.75 L529.50,84.54 L529.80,84.26 L530.10,83.87 L530.40,83.79 L530.70,83.54 L531.00,83.56 L531.30,83.26 L531.60,83.11 L531.90,82.94 L532.20,82.91 L532.50,83.11 L532.80,82.76 L533.10,82.51 L533.40,81.85 L533.70,79.99 L534.00,74.67 L534.20,71.48 L534.30,72.68 L534.60,79.35 L534.90,82.84 L535.20,84.31 L535.50,84.34 L535.80,84.45 L536.10,84.16 L536.40,83.90 L536.70,83.75 L537.00,83.50 L537.30,83.67 L537.60,83.42 L537.90,83.25 L538.20,83.26 L538.50,83.25 L538.80,83.18 L539.10,83.62 L539.40,83.65 L539.70,84.00 L540.00,84.02 L540.30,84.37 L540.60,84.52 L540.90,84.76 L541.20,85.46 L541.50,85.78 L541.80,85.62 L542.10,85.51 L542.40,85.13 L542.70,84.61 L543.00,84.42 L543.30,84.30 L543.60,83.88 L543.90,83.86 L544.20,83.42 L544.50,83.38 L544.80,83.45 L545.10,83.24 L545.40,83.32 L545.70,83.64 L546.00,83.62 L546.30,83.92 L546.60,83.93 L546.90,84.16 L547.20,84.53 L547.50,84.77 L547.80,85.42 L548.10,85.50 L548.40,85.78 L548.70,85.25 L549.00,85.07 L549.30,84.69 L549.60,84.39 L549.90,83.97 L550.20,83.75 L550.50,83.83 L550.80,83.48 L551.10,83.32 L551.40,83.23 L551.70,83.25 L552.00,83.26 L552.30,83.26 L552.60,83.64 L552.90,83.68 L553.20,83.83 L553.50,84.30 L553.80,84.34 L554.10,84.72 L554.40,85.27 L554.70,85.34 L555.00,85.75 L555.30,85.55 L555.60,85.19 L555.90,84.60 L556.20,84.36 L556.50,84.22 L556.80,83.83 L557.10,83.85 L557.40,83.37 L557.70,83.54 L558.00,83.28 L558.30,83.14 L558.60,83.25 L558.90,83.18 L559.20,83.53 L559.50,83.51 L559.80,83.96 L560.10,84.08 L560.40,84.26 L560.70,84.50 L561.00,84.96 L561.30,85.13 L561.60,85.73 L561.90,85.12 L562.20,84.90 L562.50,84.55 L562.80,84.10 L563.10,83.98 L563.40,83.53 L563.70,83.38 L564.00,83.12 L564.30,82.82 L564.60,82.70 L564.90,82.47 L565.20,82.42 L565.50,82.64 L565.80,82.40 L566.10,82.53 L566.40,82.29 L566.70,82.44 L567.00,82.27 L567.30,82.16 L567.60,81.75 L567.90,81.07 L568.20,80.16 L568.50,77.86 L568.80,74.07 L569.10,68.14 L569.40,57.43 L569.70,41.76 L570.00,31.74 L570.00,31.69 L570.30,41.47 L570.60,56.70 L570.90,66.49 L571.20,72.29 L571.50,75.55 L571.80,77.91 L572.10,79.32 L572.40,80.23 L572.70,81.06 L573.00,81.84 L573.30,82.45 L573.60,82.82 L573.90,83.58 L574.20,83.88 L574.50,84.47 L574.80,84.76 L575.10,84.77 L575.40,84.82 L575.70,84.48 L576.00,84.21 L576.30,83.70 L576.60,83.48 L576.90,83.33 L577.20,83.19 L577.50,83.12 L577.80,83.08 L578.10,82.91 L578.40,83.04 L578.70,83.24 L579.00,83.18 L579.30,83.60 L579.60,83.70 L579.90,84.00 L580.20,84.09 L580.50,84.47 L580.80,84.90 L581.10,85.12 L581.40,85.34 L581.70,85.74 L582.00,85.37 L582.30,84.84 L582.60,84.42 L582.90,84.45 L583.20,84.09 L583.50,83.63 L583.80,83.52 L584.10,83.32 L584.40,83.49 L584.70,83.20 L585.00,83.48 L585.30,83.46 L585.60,83.28 L585.90,83.67 L586.20,83.73 L586.50,84.10 L586.80,84.40 L587.10,84.47 L587.40,84.72 L587.70,85.40 L588.00,85.54 L588.30,85.92 L588.60,85.48 L588.90,85.15 L589.20,84.86 L589.50,84.48 L589.80,84.13 L590.10,83.73 L590.40,83.79 L590.70,83.52 L591.00,83.44 L591.30,83.54 L591.60,83.21 L591.90,83.49 L592.20,83.29 L592.50,83.69 L592.80,83.90 L593.10,83.91 L593.40,84.27 L593.70,84.73 L594.00,84.91 L594.30,85.21 L594.60,85.44 L594.90,85.66 L595.20,85.43 L595.50,85.10 L595.80,84.69 L596.10,84.42 L596.40,84.07 L596.70,84.05 L597.00,83.83 L597.30,83.49 L597.60,83.37 L597.90,83.40 L598.20,83.35 L598.50,83.57 L598.80,83.41 L599.10,83.52 L599.40,83.92 L599.70,83.83 L600.00,84.25 L600.30,85.03 L600.60,85.31 L600.90,85.33 L601.20,85.57 L601.50,86.20 L601.80,85.25 L602.10,84.99 L602.40,84.68 L602.70,84.90 L603.00,84.19 L603.30,84.29 L603.60,83.83 L603.90,83.42 L604.20,84.42 L604.50,83.96 L604.80,84.14 L605.10,83.73 L605.40,83.61 L605.70,83.57 L606.00,84.48 L606.30,84.82 L606.60,84.34 L606.90,84.29 L607.20,85.08 L607.50,85.19 L607.80,85.54 L608.10,86.20 L608.40,85.82 L608.70,85.77 L609.00,84.74 L609.30,84.82 L609.60,84.64 L609.90,84.71 L610.20,83.69 L610.50,84.26 L610.80,84.33 L611.10,84.53 L611.40,83.88 L611.70,83.56 L612.00,83.55 L612.30,83.77 L612.60,84.60 L612.90,83.68 L613.20,84.16 L613.50,84.31 L613.80,85.45 L614.10,85.25 L614.40,85.56 L614.70,85.70 L615.00,85.60 L615.30,85.83 L615.60,85.00 L615.90,84.78 L616.20,84.55 L616.50,83.93 L616.80,84.17 L617.10,84.73 L617.40,84.63 L617.70,84.24 L618.00,83.58 L618.30,84.07 L618.60,83.92 L618.90,84.17 L619.20,83.99 L619.50,84.60 L619.80,83.97 L620.10,84.70 L620.40,84.91 L620.70,85.20 L621.00,85.44 L621.30,85.64 L621.60,85.30 L621.90,85.69 L622.20,85.42 L622.50,84.45 L622.80,84.48 L623.10,84.55 L623.40,84.27 L623.70,84.01 L624.00,83.64 L624.30,83.48 L624.60,84.24 L624.90,84.13 L625.20,83.64 L625.50,84.41 L625.80,84.28 L626.10,83.88 L626.40,84.68 L626.70,84.39 L627.00,84.54 L627.30,84.90 L627.60,85.30 L627.90,85.36 L628.20,85.83 L628.50,85.81 L628.80,85.47 L629.10,85.54 L629.40,84.87 L629.70,84.73 L630.00,84.74 L630.30,83.90 L630.60,84.59 L630.90,83.59 L631.20,83.54 L631.50,84.21 L631.80,84.18 L632.10,83.80 L632.40,83.91 L632.70,84.44 L633.00,83.77 L633.30,84.75 L633.60,84.76 L633.90,85.19 L634.20,84.95 L634.50,85.81 L634.80,86.20 L635.10,85.27 L635.40,84.89 L635.70,85.41 L636.00,84.45 L636.30,84.76 L636.60,84.33 L636.90,83.84 L637.20,84.09 L637.50,84.22 L637.80,83.56 L638.10,84.16 L638.40,83.48 L638.70,83.69 L639.00,84.12 L639.30,84.00 L639.60,84.24 L639.90,84.01 L640.20,85.26 L640.50,84.50 L640.80,85.14 L641.10,85.48 L641.40,85.83 L641.70,86.08 L642.00,85.07 L642.30,85.37 L642.60,85.24 L642.90,84.78 L643.20,84.11 L643.50,84.70 L643.80,84.42 L644.10,84.15 L644.40,84.00 L644.70,83.77 L645.00,83.80 L645.30,83.59 L645.60,84.44 L645.90,84.01 L646.20,83.94 L646.50,84.07 L646.80,84.89 L647.10,84.89 L647.40,85.05 L647.70,84.92 L648.00,85.50 L648.30,85.76 L648.60,85.35 L648.90,85.32 L649.20,84.32 L649.50,85.09 L649.80,84.57 L650.10,84.50 L650.40,83.82 L650.70,83.82 L651.00,83.23 L651.30,83.39 L651.60,83.55 L651.90,83.43 L652.20,84.24 L652.50,83.69 L652.80,84.61 L653.10,83.83 L653.40,84.87 L653.70,84.12 L654.00,84.63 L654.30,85.17 L654.60,84.88 L654.90,84.90 L655.20,84.06 L655.50,83.19 L655.80,81.83 L656.10,80.03 L656.40,76.12 L656.70,68.16 L657.00,60.64 L657.00,61.37 L657.30,67.85 L657.60,75.93 L657.90,78.83 L658.20,80.57 L658.50,81.74 L658.80,82.72 L659.10,83.23 L659.40,83.69 L659.70,83.72 L660.00,84.04 L660.30,84.85 L660.60,84.75 L660.90,85.74 L661.20,85.23 L661.50,86.00 L661.80,84.66 L662.10,85.19 L662.40,84.78 L662.70,84.51 L663.00,84.07 L663.30,83.65 L663.60,83.88 L663.90,83.64 L664.20,83.90 L664.50,83.36 L664.80,84.34 L665.10,83.26 L665.40,83.79 L665.70,84.25 L666.00,84.10 L666.30,84.47 L666.60,84.93 L666.90,84.91 L667.20,85.06 L667.50,85.69 L667.80,85.53 L668.10,86.17 L668.40,85.81 L668.70,84.88 L669.00,84.81 L669.30,84.33 L669.60,84.76 L669.90,84.73 L670.20,84.11 L670.50,84.26 L670.80,83.86 L671.10,84.31 L671.40,83.62 L671.70,84.29 L672.00,84.02 L672.30,84.07 L672.60,84.63 L672.90,84.66 L673.20,84.82 L673.50,84.65 L673.80,85.72 L674.10,84.79 L674.40,85.94 L674.70,86.07 L675.00,85.67 L675.30,84.81 L675.60,84.70 L675.90,85.15 L676.20,85.03 L676.50,84.09 L676.80,84.38 L677.10,83.68 L677.40,83.70 L677.70,83.48 L678.00,84.19 L678.30,84.21 L678.60,83.80 L678.90,83.85 L679.20,84.26 L679.50,84.47 L679.80,84.18 L680.10,84.73 L680.40,85.06 L680.70,85.66 L681.00,85.97 L681.30,85.45 L681.60,85.11 L681.90,85.18 L682.20,85.11 L682.50,84.29 L682.80,84.84 L683.10,84.47 L683.40,84.79 L683.70,84.46 L684.00,83.76" fill="none" stroke="#1a1a1a" stroke-width="1.10" stroke-linejoin="round" />
<line x1="431.50" y1="145.00" x2="683.50" y2="145.00" stroke="#9ccf9c" stroke-width="1.00" stroke-dasharray="3,2.5"/>
<path d="M430.80,145.39 L431.40,145.52 L432.00,145.72 L432.60,145.59 L433.20,145.64 L433.80,144.94 L434.40,145.15 L435.00,144.32 L435.60,145.17 L436.20,145.02 L436.80,144.72 L437.40,145.01 L438.00,145.34 L438.60,145.50 L439.20,145.44 L439.80,145.20 L440.40,144.92 L441.00,145.23 L441.60,145.03 L442.20,144.64 L442.80,144.81 L443.40,145.19 L444.00,145.43 L444.60,145.96 L445.20,145.75 L445.80,145.67 L446.40,144.67 L447.00,145.14 L447.60,144.42 L448.20,145.22 L448.80,144.57 L449.40,144.72 L450.00,145.10 L450.60,145.54 L451.20,145.81 L451.80,145.57 L452.40,145.07 L453.00,144.61 L453.60,144.85 L454.20,144.85 L454.80,144.54 L455.40,145.19 L456.00,146.54 L456.60,147.37 L457.00,147.91 L457.20,147.60 L457.80,146.88 L458.40,145.69 L459.00,144.94 L459.60,144.63 L460.20,144.81 L460.80,144.19 L461.40,144.98 L462.00,144.72 L462.60,145.70 L463.20,145.91 L463.80,145.62 L464.40,145.00 L465.00,144.84 L465.60,144.49 L466.20,144.53 L466.80,144.07 L467.40,144.10 L468.00,144.84 L468.60,145.25 L469.20,145.81 L469.80,145.13 L470.40,145.43 L471.00,144.96 L471.60,144.57 L472.20,145.09 L472.80,144.79 L473.40,144.73 L474.00,144.34 L474.60,145.11 L475.20,144.82 L475.80,145.45 L476.40,145.33 L477.00,144.93 L477.60,145.21 L478.20,144.86 L478.80,144.65 L479.40,144.17 L480.00,144.79 L480.60,144.64 L481.20,145.38 L481.80,145.46 L482.40,145.54 L483.00,145.01 L483.60,145.57 L484.20,144.98 L484.80,144.67 L485.40,144.22 L486.00,143.93 L486.60,144.09 L487.20,144.83 L487.80,145.35 L488.40,145.49 L489.00,145.19 L489.60,145.23 L490.20,144.58 L490.80,144.82 L491.40,144.87 L492.00,144.62 L492.60,144.48 L493.20,145.08 L493.80,144.80 L494.40,144.91 L495.00,145.14 L495.60,145.41 L496.20,145.35 L496.80,144.44 L497.40,144.34 L498.00,144.36 L498.60,144.45 L499.20,144.88 L499.80,144.72 L500.40,145.23 L501.00,145.30 L501.60,145.52 L502.20,144.90 L502.80,144.60 L503.40,144.09 L504.00,144.21 L504.60,144.32 L505.20,144.71 L505.80,144.29 L506.40,144.60 L507.00,145.24 L507.60,144.93 L508.20,145.25 L508.80,145.00 L509.40,144.55 L510.00,144.79 L510.60,144.69 L511.20,143.98 L511.80,144.57 L512.40,144.58 L513.00,145.26 L513.60,145.47 L514.20,145.22 L514.80,145.16 L515.40,144.86 L516.00,144.23 L516.60,144.74 L517.20,144.28 L517.80,144.17 L518.40,144.85 L519.00,144.40 L519.60,145.02 L520.20,145.05 L520.80,144.73 L521.40,144.59 L522.00,144.82 L522.60,143.94 L523.20,144.30 L523.80,144.29 L524.40,144.31 L525.00,144.26 L525.60,144.96 L526.20,145.35 L526.80,145.19 L527.40,145.06 L528.00,144.61 L528.60,144.76 L529.20,144.48 L529.80,144.13 L530.40,143.97 L531.00,144.55 L531.60,144.50 L532.20,145.32 L532.80,145.96 L533.40,146.40 L534.00,149.83 L534.40,157.01 L534.60,154.28 L535.20,146.16 L535.80,144.68 L536.40,144.76 L537.00,144.29 L537.60,144.79 L538.20,144.62 L538.80,144.69 L539.40,144.88 L540.00,144.79 L540.60,144.75 L541.20,144.52 L541.80,144.07 L542.40,143.71 L543.00,144.04 L543.60,144.28 L544.20,144.38 L544.80,145.07 L545.40,145.09 L546.00,145.09 L546.60,144.50 L547.20,144.70 L547.80,143.95 L548.40,144.34 L549.00,144.42 L549.60,143.85 L550.20,144.69 L550.80,144.43 L551.40,144.93 L552.00,144.68 L552.60,145.02 L553.20,144.69 L553.80,144.77 L554.40,144.22 L555.00,144.18 L555.60,143.96 L556.20,143.99 L556.80,144.58 L557.40,144.38 L558.00,144.50 L558.60,145.18 L559.20,144.26 L559.80,144.40 L560.40,143.97 L561.00,143.98 L561.60,144.10 L562.20,144.64 L562.80,144.62 L563.40,144.94 L564.00,145.04 L564.60,145.13 L565.20,146.05 L565.80,146.42 L566.40,146.68 L567.00,148.17 L567.60,151.43 L568.20,159.86 L568.80,186.47 L568.90,188.23 L569.40,169.68 L569.80,163.26 L570.00,163.70 L570.60,175.54 L570.60,175.90 L571.20,158.71 L571.80,151.12 L572.40,148.58 L573.00,146.85 L573.60,145.67 L574.20,145.49 L574.80,144.98 L575.40,145.21 L576.00,145.13 L576.60,144.91 L577.20,144.69 L577.80,144.45 L578.40,144.53 L579.00,144.70 L579.60,144.57 L580.20,144.35 L580.80,144.22 L581.40,143.86 L582.00,144.21 L582.60,144.89 L583.20,144.84 L583.80,144.91 L584.40,144.36 L585.00,144.25 L585.60,144.05 L586.20,143.24 L586.80,143.28 L587.40,144.14 L588.00,144.60 L588.60,144.18 L589.20,145.20 L589.80,144.74 L590.40,145.05 L591.00,144.33 L591.60,144.16 L592.20,144.13 L592.80,143.71 L593.40,143.85 L594.00,143.75 L594.60,143.98 L595.20,144.68 L595.80,144.40 L596.40,144.48 L597.00,144.39 L597.60,144.51 L598.20,143.63 L598.80,144.08 L599.40,143.86 L600.00,143.69 L600.60,144.23 L601.20,144.08 L601.80,144.98 L602.40,144.15 L603.00,143.95 L603.60,144.34 L604.20,143.88 L604.80,143.85 L605.40,143.29 L606.00,144.15 L606.60,143.82 L607.20,144.15 L607.80,144.17 L608.40,144.67 L609.00,144.24 L609.60,144.24 L610.20,144.10 L610.80,143.62 L611.40,144.16 L612.00,143.31 L612.60,143.35 L613.20,144.60 L613.80,144.53 L614.40,143.94 L615.00,145.25 L615.60,143.95 L616.20,143.83 L616.80,144.39 L617.40,144.16 L618.00,144.54 L618.60,143.37 L619.20,144.76 L619.80,143.63 L620.40,143.78 L621.00,145.26 L621.60,143.73 L622.20,143.78 L622.80,144.23 L623.40,143.36 L624.00,143.83 L624.60,144.34 L625.20,144.44 L625.80,144.98 L626.40,145.55 L627.00,144.77 L627.60,144.01 L628.20,145.59 L628.80,142.97 L629.40,144.83 L630.00,143.69 L630.60,142.15 L631.20,144.85 L631.80,142.80 L632.40,144.48 L633.00,143.24 L633.60,143.88 L634.20,144.39 L634.80,145.64 L635.40,145.33 L636.00,142.08 L636.60,143.56 L637.20,142.95 L637.80,143.04 L638.40,144.78 L639.00,143.07 L639.60,143.30 L640.20,144.79 L640.80,144.09 L641.40,142.41 L642.00,145.19 L642.60,144.12 L643.20,143.33 L643.80,144.99 L644.40,143.70 L645.00,144.91 L645.60,144.35 L646.20,143.84 L646.80,143.07 L647.40,143.68 L648.00,143.03 L648.60,145.42 L649.20,142.53 L649.80,143.57 L650.40,145.41 L651.00,144.23 L651.60,144.37 L652.20,144.03 L652.80,143.50 L653.40,147.65 L654.00,146.23 L654.60,146.51 L655.20,152.92 L655.80,159.62 L656.00,157.58 L656.30,156.64 L656.40,156.21 L657.00,153.52 L657.60,148.90 L658.20,150.34 L658.80,147.06 L659.40,145.92 L660.00,144.48 L660.60,144.90 L661.20,146.03 L661.80,143.39 L662.40,146.22 L663.00,145.55 L663.60,144.86 L664.20,142.28 L664.80,143.40 L665.40,143.80 L666.00,142.53 L666.60,144.15 L667.20,145.50 L667.80,144.24 L668.40,142.56 L669.00,143.59 L669.60,143.57 L670.20,146.02 L670.80,143.03 L671.40,143.53 L672.00,141.66 L672.60,141.91 L673.20,142.01 L673.80,143.66 L674.40,141.17 L675.00,145.52 L675.60,143.04 L676.20,145.17 L676.80,146.35 L677.40,143.72 L678.00,146.05 L678.60,143.48 L679.20,141.20 L679.80,145.10 L680.40,142.64 L681.00,141.05 L681.60,142.90 L682.20,142.14 L682.80,142.30 L683.40,145.36 L684.00,145.72" fill="none" stroke="#128c12" stroke-width="1.15" stroke-linejoin="round" />
<path d="M430.80,189.88 L431.40,190.74 L432.00,191.50 L432.60,191.57 L433.20,191.06 L433.80,189.93 L434.40,189.21 L435.00,188.72 L435.60,188.67 L436.20,188.69 L436.80,189.73 L437.40,190.67 L438.00,191.09 L438.60,191.38 L439.20,191.48 L439.80,190.75 L440.40,189.86 L441.00,189.31 L441.60,188.33 L442.20,188.53 L442.80,189.29 L443.40,189.75 L444.00,190.78 L444.60,190.71 L445.20,190.77 L445.80,190.79 L446.40,190.43 L447.00,189.32 L447.60,189.05 L448.20,188.84 L448.80,189.40 L449.40,189.29 L450.00,190.30 L450.60,190.55 L451.20,190.73 L451.80,190.68 L452.40,190.97 L453.00,189.93 L453.60,189.21 L454.20,189.44 L454.80,188.90 L455.40,189.06 L456.00,189.51 L456.60,189.65 L456.90,189.25 L457.20,190.99 L457.60,194.33 L457.80,193.77 L458.40,191.53 L459.00,190.49 L459.60,190.12 L460.20,189.17 L460.80,189.01 L461.40,188.73 L462.00,189.49 L462.60,189.40 L463.20,190.14 L463.80,190.53 L464.40,191.33 L465.00,190.49 L465.60,190.88 L466.20,190.00 L466.80,189.84 L467.40,189.30 L468.00,189.02 L468.60,189.04 L469.20,189.47 L469.80,190.32 L470.40,190.84 L471.00,190.54 L471.60,190.42 L472.20,190.92 L472.80,189.70 L473.40,189.08 L474.00,189.39 L474.60,188.59 L475.20,189.43 L475.80,190.07 L476.40,190.41 L477.00,191.12 L477.60,190.70 L478.20,190.53 L478.80,190.42 L479.40,190.14 L480.00,189.07 L480.60,189.39 L481.20,188.96 L481.80,189.11 L482.40,189.51 L483.00,190.23 L483.60,191.29 L484.20,191.04 L484.80,190.88 L485.40,190.58 L486.00,189.84 L486.60,189.26 L487.20,188.22 L487.80,188.72 L488.40,189.61 L489.00,190.13 L489.60,190.65 L490.20,191.72 L490.80,191.78 L491.40,191.20 L492.00,190.17 L492.60,189.16 L493.20,188.72 L493.80,188.85 L494.40,189.16 L495.00,189.63 L495.60,189.98 L496.20,190.37 L496.80,191.16 L497.40,190.72 L498.00,190.99 L498.60,189.91 L499.20,189.27 L499.80,188.43 L500.40,188.91 L501.00,188.85 L501.60,189.51 L502.20,190.10 L502.80,190.71 L503.40,190.99 L504.00,191.42 L504.60,190.61 L505.20,189.67 L505.80,189.15 L506.40,189.25 L507.00,188.87 L507.60,189.28 L508.20,189.74 L508.80,190.22 L509.40,191.52 L510.00,191.36 L510.60,191.02 L511.20,191.15 L511.80,190.29 L512.40,189.58 L513.00,188.52 L513.60,188.87 L514.20,189.19 L514.80,189.85 L515.40,190.87 L516.00,191.66 L516.60,191.23 L517.20,190.93 L517.80,190.26 L518.40,189.71 L519.00,188.82 L519.60,188.93 L520.20,188.43 L520.80,189.35 L521.40,189.52 L522.00,191.02 L522.60,191.71 L523.20,191.18 L523.80,191.09 L524.40,190.28 L525.00,189.77 L525.60,189.04 L526.20,188.92 L526.80,188.60 L527.40,189.68 L528.00,189.74 L528.60,190.53 L529.20,190.85 L529.80,190.73 L530.40,190.41 L531.00,190.28 L531.60,190.03 L532.20,190.04 L532.80,189.69 L533.40,190.44 L534.00,192.33 L534.60,202.07 L534.60,201.59 L535.20,194.05 L535.80,191.88 L536.40,191.87 L537.00,190.90 L537.60,190.02 L538.20,189.60 L538.80,189.22 L539.40,188.64 L540.00,189.05 L540.60,190.01 L541.20,190.20 L541.80,191.14 L542.40,190.87 L543.00,190.94 L543.60,190.71 L544.20,190.02 L544.80,189.67 L545.40,189.20 L546.00,189.14 L546.60,188.68 L547.20,189.60 L547.80,190.85 L548.40,191.08 L549.00,191.29 L549.60,191.32 L550.20,191.01 L550.80,190.46 L551.40,189.30 L552.00,188.75 L552.60,188.50 L553.20,188.99 L553.80,189.79 L554.40,190.51 L555.00,190.77 L555.60,190.74 L556.20,190.59 L556.80,190.97 L557.40,189.86 L558.00,189.65 L558.60,189.22 L559.20,188.87 L559.80,189.81 L560.40,190.17 L561.00,190.77 L561.60,191.19 L562.20,191.17 L562.80,190.53 L563.40,190.44 L564.00,190.40 L564.60,189.89 L565.20,190.47 L565.80,190.78 L566.40,191.23 L567.00,193.25 L567.60,194.46 L568.20,198.07 L568.80,204.51 L569.40,222.14 L569.50,222.60 L569.50,222.46 L570.00,211.62 L570.60,209.75 L570.70,209.05 L571.20,198.73 L571.80,194.21 L572.40,192.04 L573.00,191.71 L573.60,191.31 L574.20,191.91 L574.80,191.84 L575.40,191.99 L576.00,191.22 L576.60,190.48 L577.20,189.85 L577.80,189.56 L578.40,188.98 L579.00,189.30 L579.60,190.23 L580.20,190.57 L580.80,191.17 L581.40,191.56 L582.00,191.32 L582.60,191.22 L583.20,190.68 L583.80,190.05 L584.40,189.22 L585.00,188.60 L585.60,189.54 L586.20,190.13 L586.80,190.38 L587.40,191.47 L588.00,191.38 L588.60,190.61 L589.20,190.62 L589.80,189.84 L590.40,190.31 L591.00,189.69 L591.60,189.90 L592.20,189.43 L592.80,190.45 L593.40,190.80 L594.00,191.16 L594.60,191.18 L595.20,191.05 L595.80,190.51 L596.40,190.36 L597.00,189.91 L597.60,189.37 L598.20,189.94 L598.80,189.73 L599.40,190.06 L600.00,190.33 L600.60,190.54 L601.20,191.01 L601.80,190.85 L602.40,190.60 L603.00,190.02 L603.60,190.03 L604.20,189.29 L604.80,189.84 L605.40,189.87 L606.00,189.84 L606.60,190.82 L607.20,190.84 L607.80,190.91 L608.40,190.34 L609.00,190.81 L609.60,190.43 L610.20,189.69 L610.80,189.51 L611.40,189.41 L612.00,190.25 L612.60,190.24 L613.20,190.42 L613.80,191.30 L614.40,191.23 L615.00,190.66 L615.60,190.82 L616.20,189.65 L616.80,189.72 L617.40,189.65 L618.00,190.04 L618.60,189.96 L619.20,190.21 L619.80,191.41 L620.40,191.41 L621.00,191.40 L621.60,191.34 L622.20,190.31 L622.80,189.58 L623.40,189.34 L624.00,188.54 L624.60,188.84 L625.20,189.79 L625.80,190.70 L626.40,190.99 L627.00,191.67 L627.60,191.25 L628.20,191.21 L628.80,190.18 L629.40,189.89 L630.00,189.24 L630.60,189.21 L631.20,189.10 L631.80,190.39 L632.40,190.84 L633.00,191.75 L633.60,191.71 L634.20,191.20 L634.80,190.72 L635.40,189.98 L636.00,189.61 L636.60,189.56 L637.20,189.42 L637.80,190.11 L638.40,189.96 L639.00,190.98 L639.60,191.14 L640.20,191.36 L640.80,191.52 L641.40,190.83 L642.00,189.86 L642.60,189.74 L643.20,189.95 L643.80,189.80 L644.40,189.73 L645.00,190.10 L645.60,191.03 L646.20,191.63 L646.80,191.71 L647.40,190.37 L648.00,190.78 L648.60,189.77 L649.20,190.39 L649.80,190.26 L650.40,190.51 L651.00,190.75 L651.60,190.53 L652.20,190.68 L652.80,191.72 L653.40,192.71 L654.00,192.34 L654.60,193.00 L655.20,195.75 L655.80,207.98 L656.20,221.23 L656.40,216.63 L657.00,198.72 L657.60,193.66 L658.20,192.23 L658.80,191.60 L659.40,191.42 L660.00,190.97 L660.60,191.94 L661.20,191.80 L661.80,190.34 L662.40,190.31 L663.00,190.77 L663.60,190.70 L664.20,190.54 L664.80,189.55 L665.40,190.72 L666.00,191.00 L666.60,191.89 L667.20,190.69 L667.80,189.38 L668.40,189.53 L669.00,190.09 L669.60,188.72 L670.20,188.90 L670.80,189.06 L671.40,189.82 L672.00,191.40 L672.60,191.36 L673.20,191.73 L673.80,189.58 L674.40,191.02 L675.00,189.07 L675.60,189.60 L676.20,189.34 L676.80,188.76 L677.40,191.40 L678.00,191.21 L678.60,193.20 L679.20,190.42 L679.80,192.22 L680.40,190.62 L681.00,189.20 L681.60,189.63 L682.20,190.01 L682.80,189.83 L683.40,189.04 L684.00,191.89" fill="none" stroke="#0000ff" stroke-width="1.15" stroke-linejoin="round" />
<path d="M430.80,235.14 L431.40,234.89 L432.00,235.85 L432.60,234.77 L433.20,235.12 L433.80,235.30 L434.40,234.32 L435.00,234.49 L435.60,234.13 L436.20,234.02 L436.80,235.29 L437.40,235.69 L438.00,235.38 L438.60,234.67 L439.20,234.71 L439.80,235.14 L440.40,233.71 L441.00,233.75 L441.60,233.55 L442.20,234.31 L442.80,234.57 L443.40,234.71 L444.00,235.84 L444.60,234.83 L445.20,234.48 L445.80,233.97 L446.40,233.83 L447.00,234.32 L447.60,234.20 L448.20,234.64 L448.80,234.74 L449.40,235.01 L450.00,234.72 L450.60,234.49 L451.20,234.86 L451.80,235.19 L452.40,233.94 L453.00,234.47 L453.60,234.68 L454.20,234.61 L454.80,234.81 L455.40,235.35 L456.00,234.19 L456.60,230.86 L456.60,229.89 L457.10,238.63 L457.20,237.88 L457.80,235.33 L458.40,234.62 L459.00,232.59 L459.10,232.42 L459.60,233.93 L460.20,234.99 L460.80,235.17 L461.40,234.54 L462.00,235.32 L462.60,234.71 L463.20,235.55 L463.80,234.97 L464.40,234.95 L465.00,233.44 L465.60,234.14 L466.20,235.03 L466.80,234.36 L467.40,235.69 L468.00,234.86 L468.60,235.71 L469.20,235.50 L469.80,234.97 L470.40,233.64 L471.00,234.33 L471.60,233.77 L472.20,234.38 L472.80,234.93 L473.40,234.73 L474.00,234.92 L474.60,235.20 L475.20,235.42 L475.80,234.55 L476.40,233.92 L477.00,234.29 L477.60,234.23 L478.20,235.18 L478.80,234.78 L479.40,235.49 L480.00,234.62 L480.60,235.84 L481.20,234.41 L481.80,234.87 L482.40,234.20 L483.00,233.71 L483.60,234.85 L484.20,235.07 L484.80,235.47 L485.40,234.80 L486.00,235.87 L486.60,235.67 L487.20,235.29 L487.80,234.82 L488.40,234.61 L489.00,234.70 L489.60,234.24 L490.20,235.02 L490.80,234.58 L491.40,234.91 L492.00,234.68 L492.60,235.43 L493.20,234.40 L493.80,235.27 L494.40,234.64 L495.00,235.01 L495.60,235.10 L496.20,234.54 L496.80,235.31 L497.40,235.06 L498.00,234.87 L498.60,235.13 L499.20,234.85 L499.80,234.34 L500.40,234.27 L501.00,234.21 L501.60,235.15 L502.20,235.14 L502.80,234.84 L503.40,234.72 L504.00,235.65 L504.60,234.86 L505.20,234.25 L505.80,234.78 L506.40,235.00 L507.00,234.66 L507.60,234.31 L508.20,234.50 L508.80,234.37 L509.40,235.64 L510.00,234.77 L510.60,235.02 L511.20,234.90 L511.80,234.44 L512.40,233.99 L513.00,234.63 L513.60,234.85 L514.20,235.42 L514.80,234.72 L515.40,235.82 L516.00,234.75 L516.60,235.61 L517.20,234.68 L517.80,234.44 L518.40,234.20 L519.00,233.77 L519.60,234.58 L520.20,235.20 L520.80,235.18 L521.40,234.72 L522.00,234.98 L522.60,235.23 L523.20,235.16 L523.80,234.01 L524.40,234.04 L525.00,234.71 L525.60,234.22 L526.20,234.49 L526.80,234.53 L527.40,234.63 L528.00,235.65 L528.60,235.60 L529.20,234.88 L529.80,234.98 L530.40,234.87 L531.00,235.14 L531.60,235.21 L532.20,234.86 L532.80,235.39 L533.40,237.10 L534.00,240.78 L534.50,250.21 L534.60,249.25 L535.20,237.77 L535.80,236.07 L536.40,234.55 L537.00,234.14 L537.60,235.13 L538.20,235.24 L538.80,235.11 L539.40,235.19 L540.00,235.05 L540.60,235.20 L541.20,234.78 L541.80,234.35 L542.40,235.29 L543.00,234.41 L543.60,234.90 L544.20,234.85 L544.80,234.42 L545.40,235.00 L546.00,235.03 L546.60,234.77 L547.20,234.76 L547.80,234.11 L548.40,234.68 L549.00,233.95 L549.60,235.12 L550.20,234.61 L550.80,235.05 L551.40,235.17 L552.00,235.80 L552.60,236.01 L553.20,235.37 L553.80,235.39 L554.40,235.08 L555.00,234.31 L555.60,234.06 L556.20,234.67 L556.80,234.73 L557.40,235.17 L558.00,236.30 L558.60,235.84 L559.20,234.92 L559.80,235.17 L560.40,235.17 L561.00,235.02 L561.60,234.96 L562.20,234.77 L562.80,236.18 L563.40,236.81 L564.00,236.35 L564.60,236.52 L565.20,237.23 L565.80,236.87 L566.40,238.17 L567.00,238.35 L567.60,241.81 L568.20,246.14 L568.80,256.34 L569.40,275.69 L569.70,280.58 L570.00,276.36 L570.60,259.83 L571.20,252.00 L571.50,248.99 L571.80,245.99 L572.40,242.73 L573.00,239.90 L573.60,237.34 L574.20,236.56 L574.80,235.75 L575.40,236.79 L576.00,235.83 L576.60,235.96 L577.20,236.30 L577.80,234.45 L578.40,234.27 L579.00,234.65 L579.60,235.25 L580.20,234.47 L580.80,235.23 L581.40,235.46 L582.00,235.96 L582.60,235.49 L583.20,235.43 L583.80,234.95 L584.40,235.16 L585.00,235.14 L585.60,234.41 L586.20,234.60 L586.80,234.40 L587.40,235.09 L588.00,234.97 L588.60,235.61 L589.20,235.57 L589.80,234.58 L590.40,235.15 L591.00,234.05 L591.60,234.19 L592.20,234.13 L592.80,234.78 L593.40,236.01 L594.00,235.84 L594.60,235.83 L595.20,235.61 L595.80,235.02 L596.40,234.23 L597.00,234.44 L597.60,234.73 L598.20,234.02 L598.80,235.67 L599.40,235.72 L600.00,235.34 L600.60,235.46 L601.20,234.90 L601.80,235.29 L602.40,234.93 L603.00,234.37 L603.60,234.22 L604.20,234.34 L604.80,234.86 L605.40,234.95 L606.00,235.03 L606.60,235.26 L607.20,234.70 L607.80,235.03 L608.40,233.82 L609.00,233.82 L609.60,233.98 L610.20,234.46 L610.80,235.42 L611.40,235.04 L612.00,235.53 L612.60,235.60 L613.20,234.21 L613.80,234.28 L614.40,234.54 L615.00,234.73 L615.60,235.14 L616.20,234.27 L616.80,234.90 L617.40,234.99 L618.00,235.85 L618.60,235.85 L619.20,234.59 L619.80,235.24 L620.40,234.80 L621.00,235.04 L621.60,234.27 L622.20,235.41 L622.80,234.53 L623.40,235.96 L624.00,235.89 L624.60,235.46 L625.20,234.54 L625.80,234.08 L626.40,234.60 L627.00,234.15 L627.60,234.03 L628.20,235.12 L628.80,234.81 L629.40,235.02 L630.00,234.82 L630.60,235.82 L631.20,234.73 L631.80,235.62 L632.40,234.73 L633.00,234.28 L633.60,233.73 L634.20,233.83 L634.80,235.63 L635.40,234.28 L636.00,235.62 L636.60,235.66 L637.20,235.96 L637.80,233.97 L638.40,234.06 L639.00,234.69 L639.60,235.90 L640.20,235.95 L640.80,234.05 L641.40,236.49 L642.00,235.33 L642.60,233.07 L643.20,234.96 L643.80,235.18 L644.40,235.54 L645.00,234.79 L645.60,234.22 L646.20,233.96 L646.80,234.38 L647.40,234.60 L648.00,235.56 L648.60,234.97 L649.20,237.02 L649.80,238.61 L650.40,236.16 L651.00,236.05 L651.00,238.67 L651.60,235.58 L652.20,237.88 L652.80,237.12 L653.40,236.80 L654.00,237.30 L654.60,235.85 L655.20,238.81 L655.80,241.77 L656.40,260.96 L656.70,269.39 L657.00,257.91 L657.60,242.29 L658.20,239.76 L658.80,236.19 L659.40,235.70 L660.00,234.21 L660.60,234.65 L661.20,233.26 L661.80,233.83 L662.40,232.40 L663.00,236.94 L663.60,232.85 L664.20,231.71 L664.80,238.23 L665.40,236.92 L666.00,237.20 L666.60,234.82 L667.20,236.47 L667.80,233.63 L668.40,233.37 L669.00,235.36 L669.60,235.21 L670.20,236.52 L670.80,236.33 L671.40,235.86 L672.00,237.38 L672.60,237.16 L673.20,232.61 L673.80,236.17 L674.40,234.71 L675.00,236.23 L675.60,233.67 L676.20,237.50 L676.80,235.67 L677.40,238.52 L678.00,238.19 L678.60,231.98 L679.20,237.26 L679.80,233.17 L680.40,234.30 L681.00,236.54 L681.60,231.87 L682.20,233.67 L682.80,235.12 L683.40,232.29 L684.00,234.08" fill="none" stroke="#ff0000" stroke-width="1.20" stroke-linejoin="round" />
<path d="M300.10,114.60 L294.60,114.60 L294.60,154.00 L300.10,154.00" fill="none" stroke="#707070" stroke-width="1.3"/>
<path d="M411.70,114.60 L417.20,114.60 L417.20,154.00 L411.70,154.00" fill="none" stroke="#707070" stroke-width="1.3"/>
<line x1="306.50" y1="139.20" x2="306.50" y2="118.60" stroke="#c00000" stroke-width="2.00" />
<path d="M306.50,113.60 L309.40,119.60 L306.50,118.40 L303.60,119.60 Z" fill="#c00000"/>
<line x1="306.50" y1="139.20" x2="328.20" y2="139.20" stroke="#2050e8" stroke-width="2.00" />
<path d="M333.20,139.20 L327.20,142.10 L328.40,139.20 L327.20,136.30 Z" fill="#2050e8"/>
<line x1="306.50" y1="139.20" x2="320.41" y2="152.72" stroke="#2a8a2a" stroke-width="2.00" />
<path d="M324.00,156.20 L317.68,154.10 L320.56,152.86 L321.72,149.94 Z" fill="#2a8a2a"/>
<line x1="385.60" y1="139.60" x2="385.60" y2="118.60" stroke="#c00000" stroke-width="2.00" />
<path d="M385.60,113.60 L388.50,119.60 L385.60,118.40 L382.70,119.60 Z" fill="#c00000"/>
<line x1="385.60" y1="139.60" x2="407.30" y2="139.60" stroke="#2050e8" stroke-width="2.00" />
<path d="M412.30,139.60 L406.30,142.50 L407.50,139.60 L406.30,136.70 Z" fill="#2050e8"/>
<line x1="385.60" y1="139.60" x2="372.56" y2="126.71" stroke="#2a8a2a" stroke-width="2.00" />
<path d="M369.00,123.20 L375.31,125.35 L372.41,126.57 L371.23,129.48 Z" fill="#2a8a2a"/>
<line x1="341.30" y1="138.40" x2="352.20" y2="138.40" stroke="#222" stroke-width="1.30" />
<path d="M300.10,165.60 L294.60,165.60 L294.60,204.80 L300.10,204.80" fill="none" stroke="#707070" stroke-width="1.3"/>
<path d="M411.70,165.60 L417.20,165.60 L417.20,204.80 L411.70,204.80" fill="none" stroke="#707070" stroke-width="1.3"/>
<line x1="306.50" y1="190.30" x2="306.50" y2="169.30" stroke="#c00000" stroke-width="2.00" />
<path d="M306.50,164.30 L309.40,170.30 L306.50,169.10 L303.60,170.30 Z" fill="#c00000"/>
<line x1="306.50" y1="190.30" x2="328.20" y2="190.30" stroke="#2050e8" stroke-width="2.00" />
<path d="M333.20,190.30 L327.20,193.20 L328.40,190.30 L327.20,187.40 Z" fill="#2050e8"/>
<line x1="306.50" y1="190.30" x2="320.41" y2="203.82" stroke="#2a8a2a" stroke-width="2.00" />
<path d="M324.00,207.30 L317.68,205.20 L320.56,203.96 L321.72,201.04 Z" fill="#2a8a2a"/>
<line x1="385.60" y1="190.70" x2="385.60" y2="169.30" stroke="#c00000" stroke-width="2.00" />
<path d="M385.60,164.30 L388.50,170.30 L385.60,169.10 L382.70,170.30 Z" fill="#c00000"/>
<line x1="385.60" y1="190.70" x2="365.00" y2="190.70" stroke="#2050e8" stroke-width="2.00" />
<path d="M360.00,190.70 L366.00,187.80 L364.80,190.70 L366.00,193.60 Z" fill="#2050e8"/>
<line x1="385.60" y1="190.70" x2="399.69" y2="204.24" stroke="#2a8a2a" stroke-width="2.00" />
<path d="M403.30,207.70 L396.96,205.64 L399.84,204.38 L400.98,201.45 Z" fill="#2a8a2a"/>
<line x1="341.30" y1="189.80" x2="352.20" y2="189.80" stroke="#222" stroke-width="1.30" />
<path d="M300.10,217.60 L294.60,217.60 L294.60,256.80 L300.10,256.80" fill="none" stroke="#707070" stroke-width="1.3"/>
<path d="M411.70,217.60 L417.20,217.60 L417.20,256.80 L411.70,256.80" fill="none" stroke="#707070" stroke-width="1.3"/>
<line x1="306.80" y1="242.00" x2="306.80" y2="221.20" stroke="#c00000" stroke-width="2.00" />
<path d="M306.80,216.20 L309.70,222.20 L306.80,221.00 L303.90,222.20 Z" fill="#c00000"/>
<line x1="306.80" y1="242.00" x2="328.20" y2="242.00" stroke="#2050e8" stroke-width="2.00" />
<path d="M333.20,242.00 L327.20,244.90 L328.40,242.00 L327.20,239.10 Z" fill="#2050e8"/>
<line x1="306.80" y1="242.00" x2="320.82" y2="255.71" stroke="#2a8a2a" stroke-width="2.00" />
<path d="M324.40,259.20 L318.08,257.08 L320.97,255.85 L322.14,252.93 Z" fill="#2a8a2a"/>
<line x1="386.30" y1="242.90" x2="386.30" y2="264.00" stroke="#c00000" stroke-width="2.00" />
<path d="M386.30,269.00 L383.40,263.00 L386.30,264.20 L389.20,263.00 Z" fill="#c00000"/>
<line x1="386.30" y1="242.90" x2="407.40" y2="242.90" stroke="#2050e8" stroke-width="2.00" />
<path d="M412.40,242.90 L406.40,245.80 L407.60,242.90 L406.40,240.00 Z" fill="#2050e8"/>
<line x1="386.30" y1="242.90" x2="400.03" y2="256.40" stroke="#2a8a2a" stroke-width="2.00" />
<path d="M403.60,259.90 L397.29,257.76 L400.18,256.54 L401.35,253.63 Z" fill="#2a8a2a"/>
<line x1="341.30" y1="241.60" x2="352.20" y2="241.60" stroke="#222" stroke-width="1.30" />
<text x="112.50" y="9.30" font-size="13.10" fill="#1a1a1a" stroke="#1a1a1a" stroke-width="0.22" text-anchor="start" font-family="Liberation Sans, sans-serif" >H<tspan font-size="7.5" dy="-5.60">ω</tspan><tspan dy="5.60"> || c, E</tspan><tspan font-size="7.5" dy="-5.60">ω</tspan><tspan dy="5.60"> || a</tspan></text>
<text x="514.00" y="9.30" font-size="13.10" fill="#1a1a1a" stroke="#1a1a1a" stroke-width="0.22" text-anchor="start" font-family="Liberation Sans, sans-serif" >H<tspan font-size="7.5" dy="-5.60">ω</tspan><tspan dy="5.60"> || a, E</tspan><tspan font-size="7.5" dy="-5.60">ω</tspan><tspan dy="5.60"> || c</tspan></text>
<text x="29.80" y="31.20" font-size="11.50" fill="#1a1a1a" stroke="#1a1a1a" stroke-width="0.22" text-anchor="start" font-family="Liberation Sans, sans-serif" >(a)</text>
<text x="29.80" y="114.10" font-size="11.50" fill="#1a1a1a" stroke="#1a1a1a" stroke-width="0.22" text-anchor="start" font-family="Liberation Sans, sans-serif" >(b)</text>
<text x="436.30" y="36.10" font-size="11.50" fill="#1a1a1a" stroke="#1a1a1a" stroke-width="0.22" text-anchor="start" font-family="Liberation Sans, sans-serif" >(c)</text>
<text x="435.90" y="114.20" font-size="11.50" fill="#1a1a1a" stroke="#1a1a1a" stroke-width="0.22" text-anchor="start" font-family="Liberation Sans, sans-serif" >(d)</text>
<text x="221.60" y="122.90" font-size="11.50" fill="#1a1a1a" stroke="#1a1a1a" stroke-width="0.22" text-anchor="start" font-family="Liberation Sans, sans-serif" >|H| = 7 T</text>
<text x="625.90" y="123.40" font-size="11.50" fill="#1a1a1a" stroke="#1a1a1a" stroke-width="0.22" text-anchor="start" font-family="Liberation Sans, sans-serif" >|H| = 7 T</text>
<text x="117.30" y="67.60" font-size="10.60" fill="#1a1a1a" stroke="#1a1a1a" stroke-width="0.22" text-anchor="start" font-family="Liberation Sans, sans-serif" >100 cm<tspan font-size="7.5" dy="-4.30">-1</tspan></text>
<text x="153.40" y="217.00" font-size="10.60" fill="#1a1a1a" stroke="#1a1a1a" stroke-width="0.22" text-anchor="start" font-family="Liberation Sans, sans-serif" >100 cm<tspan font-size="7.5" dy="-4.30">-1</tspan></text>
<text x="583.30" y="68.50" font-size="10.60" fill="#1a1a1a" stroke="#1a1a1a" stroke-width="0.22" text-anchor="start" font-family="Liberation Sans, sans-serif" >100 cm<tspan font-size="7.5" dy="-4.30">-1</tspan></text>
<text x="588.40" y="217.10" font-size="10.60" fill="#1a1a1a" stroke="#1a1a1a" stroke-width="0.22" text-anchor="start" font-family="Liberation Sans, sans-serif" >100 cm<tspan font-size="7.5" dy="-4.30">-1</tspan></text>
<text x="58.80" y="58.20" font-size="10.60" fill="#1a1a1a" stroke="#1a1a1a" stroke-width="0.22" text-anchor="start" font-family="Liberation Sans, sans-serif" >ME<tspan font-size="8.5" dx="-0.3" dy="3">1</tspan></text>
<text x="461.50" y="65.20" font-size="10.60" fill="#1a1a1a" stroke="#1a1a1a" stroke-width="0.22" text-anchor="start" font-family="Liberation Sans, sans-serif" >ME<tspan font-size="8.5" dx="-0.3" dy="3">1</tspan></text>
<text x="524.70" y="65.20" font-size="10.60" fill="#1a1a1a" stroke="#1a1a1a" stroke-width="0.22" text-anchor="start" font-family="Liberation Sans, sans-serif" >ME<tspan font-size="8.5" dx="-0.3" dy="3">2</tspan></text>
<text x="561.20" y="30.70" font-size="10.60" fill="#1a1a1a" stroke="#1a1a1a" stroke-width="0.22" text-anchor="start" font-family="Liberation Sans, sans-serif" >ME<tspan font-size="8.5" dx="-0.3" dy="3">3</tspan></text>
<text x="647.40" y="56.90" font-size="10.60" fill="#1a1a1a" stroke="#1a1a1a" stroke-width="0.22" text-anchor="start" font-family="Liberation Sans, sans-serif" >ME<tspan font-size="8.5" dx="-0.3" dy="3">4</tspan></text>
<text x="102.00" y="136.90" font-size="12.6" fill="#128c12" stroke="#128c12" stroke-width="0.15" font-family="Liberation Serif, serif">Δα<tspan font-size="9" dx="0.6" dy="3.4" font-family="Liberation Sans, sans-serif">H</tspan></text>
<text x="101.80" y="181.00" font-size="12.6" fill="#0000ff" stroke="#0000ff" stroke-width="0.15" font-family="Liberation Serif, serif">Δα<tspan font-size="9" dx="0.6" dy="3.4" font-family="Liberation Sans, sans-serif">k</tspan></text>
<text x="101.80" y="226.50" font-size="12.6" fill="#ff0000" stroke="#ff0000" stroke-width="0.15" font-family="Liberation Serif, serif">Δα<tspan font-size="9" dx="0.6" dy="3.4" font-family="Liberation Sans, sans-serif">P</tspan></text>
<text x="480.90" y="139.10" font-size="12.6" fill="#128c12" stroke="#128c12" stroke-width="0.15" font-family="Liberation Serif, serif">Δα<tspan font-size="9" dx="0.6" dy="3.4" font-family="Liberation Sans, sans-serif">H</tspan></text>
<text x="480.90" y="183.10" font-size="12.6" fill="#0000ff" stroke="#0000ff" stroke-width="0.15" font-family="Liberation Serif, serif">Δα<tspan font-size="9" dx="0.6" dy="3.4" font-family="Liberation Sans, sans-serif">k</tspan></text>
<text x="480.90" y="229.00" font-size="12.6" fill="#ff0000" stroke="#ff0000" stroke-width="0.15" font-family="Liberation Serif, serif">Δα<tspan font-size="9" dx="0.6" dy="3.4" font-family="Liberation Sans, sans-serif">P</tspan></text>
<text transform="translate(25.50,295.8) scale(1,1.1)" font-size="12.5" fill="#1a1a1a" stroke="#1a1a1a" stroke-width="0.2" text-anchor="middle" font-family="Liberation Sans, sans-serif">30</text>
<text transform="translate(76.30,295.8) scale(1,1.1)" font-size="12.5" fill="#1a1a1a" stroke="#1a1a1a" stroke-width="0.2" text-anchor="middle" font-family="Liberation Sans, sans-serif">40</text>
<text transform="translate(127.10,295.8) scale(1,1.1)" font-size="12.5" fill="#1a1a1a" stroke="#1a1a1a" stroke-width="0.2" text-anchor="middle" font-family="Liberation Sans, sans-serif">50</text>
<text transform="translate(177.90,295.8) scale(1,1.1)" font-size="12.5" fill="#1a1a1a" stroke="#1a1a1a" stroke-width="0.2" text-anchor="middle" font-family="Liberation Sans, sans-serif">60</text>
<text transform="translate(228.70,295.8) scale(1,1.1)" font-size="12.5" fill="#1a1a1a" stroke="#1a1a1a" stroke-width="0.2" text-anchor="middle" font-family="Liberation Sans, sans-serif">70</text>
<text transform="translate(279.50,295.8) scale(1,1.1)" font-size="12.5" fill="#1a1a1a" stroke="#1a1a1a" stroke-width="0.2" text-anchor="middle" font-family="Liberation Sans, sans-serif">80</text>
<text transform="translate(456.20,295.8) scale(1,1.1)" font-size="12.5" fill="#1a1a1a" stroke="#1a1a1a" stroke-width="0.2" text-anchor="middle" font-family="Liberation Sans, sans-serif">40</text>
<text transform="translate(507.00,295.8) scale(1,1.1)" font-size="12.5" fill="#1a1a1a" stroke="#1a1a1a" stroke-width="0.2" text-anchor="middle" font-family="Liberation Sans, sans-serif">60</text>
<text transform="translate(557.80,295.8) scale(1,1.1)" font-size="12.5" fill="#1a1a1a" stroke="#1a1a1a" stroke-width="0.2" text-anchor="middle" font-family="Liberation Sans, sans-serif">80</text>
<text transform="translate(608.60,295.8) scale(1,1.1)" font-size="12.5" fill="#1a1a1a" stroke="#1a1a1a" stroke-width="0.2" text-anchor="middle" font-family="Liberation Sans, sans-serif">100</text>
<text transform="translate(659.40,295.8) scale(1,1.1)" font-size="12.5" fill="#1a1a1a" stroke="#1a1a1a" stroke-width="0.2" text-anchor="middle" font-family="Liberation Sans, sans-serif">120</text>
<text x="152.70" y="314.70" font-size="14.30" fill="#1a1a1a" stroke="#1a1a1a" stroke-width="0.22" text-anchor="middle" font-family="Liberation Sans, sans-serif" >wave number (cm<tspan font-size="10.0" dy="-6.20">-1</tspan><tspan dy="6.20">)</tspan></text>
<text x="557.50" y="314.70" font-size="14.30" fill="#1a1a1a" stroke="#1a1a1a" stroke-width="0.22" text-anchor="middle" font-family="Liberation Sans, sans-serif" >wave number (cm<tspan font-size="10.0" dy="-6.20">-1</tspan><tspan dy="6.20">)</tspan></text>
<text transform="translate(13.2,50.9) rotate(-90)" font-size="14.3" text-anchor="middle" fill="#1a1a1a" stroke="#1a1a1a" stroke-width="0.2" font-family="Liberation Sans, sans-serif"><tspan font-family="Liberation Serif, serif" font-size="15">α</tspan> (cm<tspan font-size="10.0" dy="-6.20">-1</tspan><tspan dy="6.20">)</tspan></text>
<text transform="translate(13.2,183.5) rotate(-90)" font-size="14.3" text-anchor="middle" fill="#1a1a1a" stroke="#1a1a1a" stroke-width="0.2" font-family="Liberation Sans, sans-serif"><tspan font-family="Liberation Serif, serif" font-size="15">Δα</tspan> (cm<tspan font-size="10.0" dy="-6.20">-1</tspan><tspan dy="6.20">)</tspan></text></svg>
</body></html>
